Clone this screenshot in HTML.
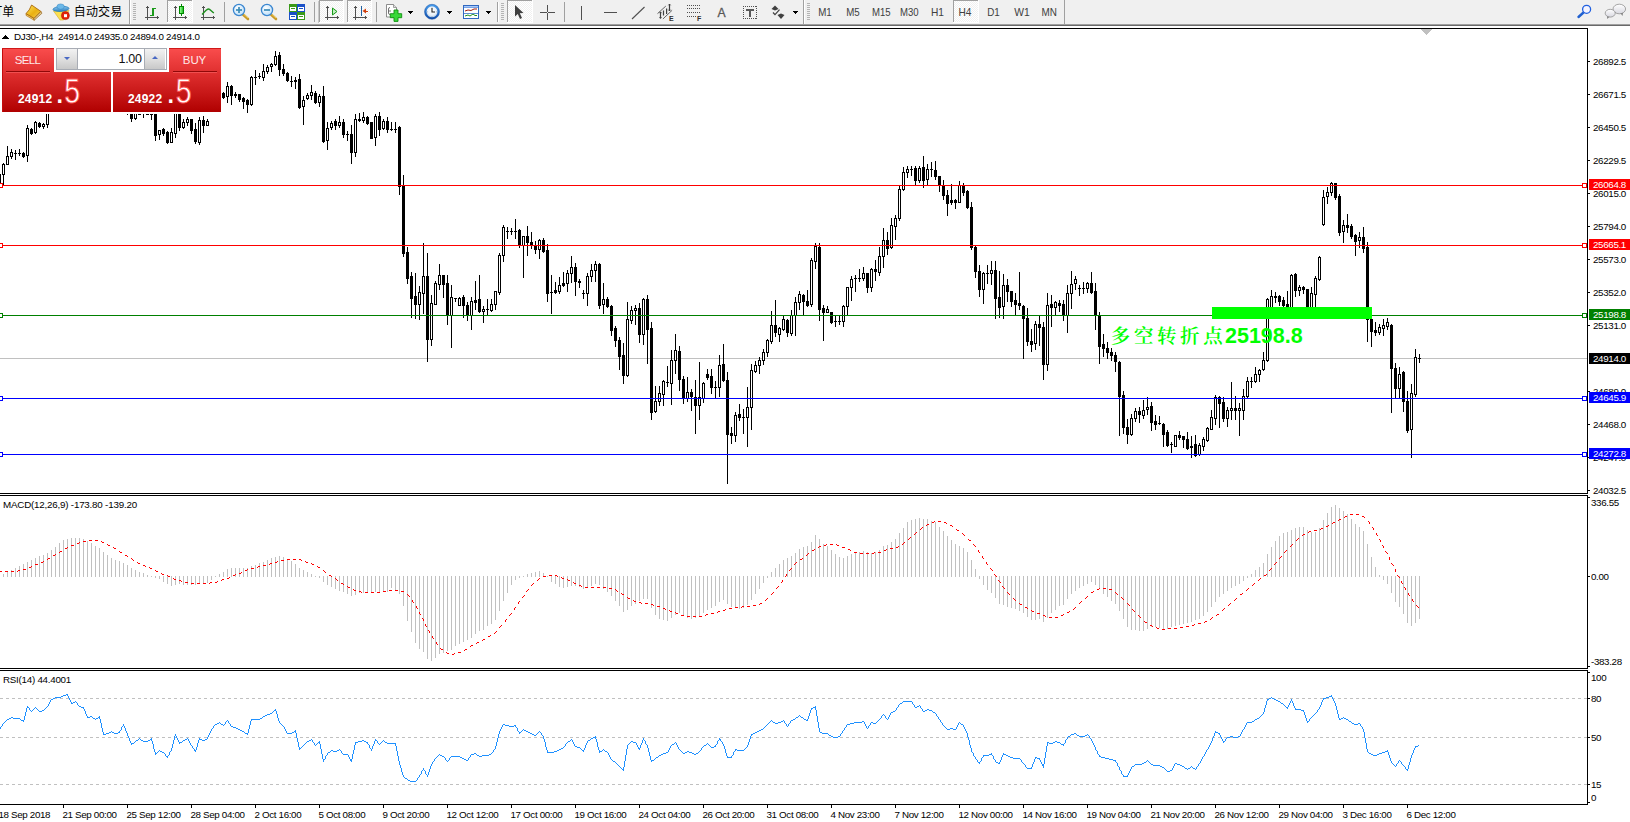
<!DOCTYPE html>
<html><head><meta charset="utf-8"><title>DJ30-,H4</title>
<style>
html,body{margin:0;padding:0;background:#fff;}
body{width:1630px;height:822px;position:relative;overflow:hidden;font-family:"Liberation Sans","Noto Sans CJK SC",sans-serif;}
#tb{position:absolute;left:0;top:0;width:1630px;height:24px;background:#f0f0f0;}
#tb1{position:absolute;left:0;top:24px;width:1630px;height:1px;background:#a0a0a0;}
#tb2{position:absolute;left:0;top:25px;width:1630px;height:1px;background:#696969;}
svg text{white-space:pre;}
</style></head><body>
<svg width="1630" height="822" viewBox="0 0 1630 822" shape-rendering="crispEdges" style="position:absolute;left:0;top:0"><rect x="0" y="28" width="1588" height="1" fill="#000"/>
<rect x="1587" y="28" width="1" height="777" fill="#000"/>
<rect x="0" y="493" width="1588" height="1" fill="#000"/>
<rect x="0" y="495" width="1588" height="1" fill="#000"/>
<rect x="0" y="668" width="1588" height="1" fill="#000"/>
<rect x="0" y="670" width="1588" height="1" fill="#000"/>
<rect x="0" y="804" width="1588" height="1" fill="#000"/>
<rect x="1587" y="494" width="1" height="1" fill="#fff"/>
<rect x="1587" y="669" width="1" height="1" fill="#fff"/>
<polygon points="1420,29 1432,29 1426,35" fill="#c0c0c0"/>
<rect x="0" y="358" width="1587" height="1" fill="#c0c0c0"/>
<g><rect x="-1" y="174" width="1" height="12" fill="#000"/><rect x="-2" y="174" width="3" height="12" fill="#000"/><rect x="3" y="163" width="1" height="23" fill="#000"/><rect x="2" y="164" width="3" height="11" fill="#000"/><rect x="3" y="165" width="1" height="9" fill="#fff"/><rect x="7" y="146" width="1" height="19" fill="#000"/><rect x="6" y="156" width="3" height="9" fill="#000"/><rect x="7" y="157" width="1" height="7" fill="#fff"/><rect x="11" y="149" width="1" height="10" fill="#000"/><rect x="10" y="152" width="3" height="5" fill="#000"/><rect x="11" y="153" width="1" height="3" fill="#fff"/><rect x="15" y="150" width="1" height="10" fill="#000"/><rect x="14" y="153" width="3" height="1" fill="#000"/><rect x="19" y="149" width="1" height="7" fill="#000"/><rect x="18" y="153" width="3" height="1" fill="#000"/><rect x="23" y="152" width="1" height="6" fill="#000"/><rect x="22" y="153" width="3" height="4" fill="#000"/><rect x="27" y="125" width="1" height="37" fill="#000"/><rect x="26" y="128" width="3" height="28" fill="#000"/><rect x="27" y="129" width="1" height="26" fill="#fff"/><rect x="31" y="128" width="1" height="7" fill="#000"/><rect x="30" y="129" width="3" height="5" fill="#000"/><rect x="35" y="121" width="1" height="13" fill="#000"/><rect x="34" y="122" width="3" height="11" fill="#000"/><rect x="35" y="123" width="1" height="9" fill="#fff"/><rect x="39" y="122" width="1" height="6" fill="#000"/><rect x="38" y="123" width="3" height="4" fill="#000"/><rect x="43" y="123" width="1" height="6" fill="#000"/><rect x="42" y="124" width="3" height="3" fill="#000"/><rect x="43" y="125" width="1" height="1" fill="#fff"/><rect x="47" y="105" width="1" height="23" fill="#000"/><rect x="46" y="106" width="3" height="19" fill="#000"/><rect x="47" y="107" width="1" height="17" fill="#fff"/><rect x="127" y="114" width="1" height="1" fill="#000"/><rect x="131" y="114" width="1" height="8" fill="#000"/><rect x="130" y="114" width="3" height="5" fill="#000"/><rect x="135" y="111" width="1" height="9" fill="#000"/><rect x="134" y="111" width="3" height="8" fill="#000"/><rect x="135" y="112" width="1" height="6" fill="#fff"/><rect x="139" y="114" width="1" height="1" fill="#000"/><rect x="138" y="114" width="3" height="1" fill="#000"/><rect x="143" y="114" width="1" height="4" fill="#000"/><rect x="147" y="114" width="1" height="1" fill="#000"/><rect x="146" y="114" width="3" height="1" fill="#000"/><rect x="151" y="114" width="1" height="6" fill="#000"/><rect x="150" y="114" width="3" height="1" fill="#000"/><rect x="155" y="111" width="1" height="30" fill="#000"/><rect x="154" y="111" width="3" height="25" fill="#000"/><rect x="159" y="130" width="1" height="10" fill="#000"/><rect x="158" y="130" width="3" height="5" fill="#000"/><rect x="159" y="131" width="1" height="3" fill="#fff"/><rect x="163" y="128" width="1" height="8" fill="#000"/><rect x="162" y="129" width="3" height="5" fill="#000"/><rect x="167" y="131" width="1" height="13" fill="#000"/><rect x="166" y="132" width="3" height="11" fill="#000"/><rect x="171" y="128" width="1" height="15" fill="#000"/><rect x="170" y="132" width="3" height="11" fill="#000"/><rect x="171" y="133" width="1" height="9" fill="#fff"/><rect x="175" y="111" width="1" height="27" fill="#000"/><rect x="174" y="111" width="3" height="23" fill="#000"/><rect x="175" y="112" width="1" height="21" fill="#fff"/><rect x="179" y="111" width="1" height="20" fill="#000"/><rect x="178" y="111" width="3" height="17" fill="#000"/><rect x="183" y="119" width="1" height="10" fill="#000"/><rect x="182" y="122" width="3" height="6" fill="#000"/><rect x="183" y="123" width="1" height="4" fill="#fff"/><rect x="187" y="117" width="1" height="9" fill="#000"/><rect x="186" y="119" width="3" height="4" fill="#000"/><rect x="187" y="120" width="1" height="2" fill="#fff"/><rect x="191" y="119" width="1" height="15" fill="#000"/><rect x="190" y="119" width="3" height="12" fill="#000"/><rect x="195" y="123" width="1" height="21" fill="#000"/><rect x="194" y="129" width="3" height="13" fill="#000"/><rect x="199" y="117" width="1" height="28" fill="#000"/><rect x="198" y="120" width="3" height="23" fill="#000"/><rect x="199" y="121" width="1" height="21" fill="#fff"/><rect x="203" y="116" width="1" height="17" fill="#000"/><rect x="202" y="120" width="3" height="6" fill="#000"/><rect x="207" y="119" width="1" height="7" fill="#000"/><rect x="206" y="121" width="3" height="5" fill="#000"/><rect x="207" y="122" width="1" height="3" fill="#fff"/><rect x="223" y="92" width="1" height="7" fill="#000"/><rect x="222" y="93" width="3" height="5" fill="#000"/><rect x="227" y="82" width="1" height="21" fill="#000"/><rect x="226" y="86" width="3" height="11" fill="#000"/><rect x="227" y="87" width="1" height="9" fill="#fff"/><rect x="231" y="85" width="1" height="20" fill="#000"/><rect x="230" y="86" width="3" height="10" fill="#000"/><rect x="235" y="92" width="1" height="6" fill="#000"/><rect x="234" y="94" width="3" height="2" fill="#000"/><rect x="239" y="94" width="1" height="8" fill="#000"/><rect x="238" y="94" width="3" height="6" fill="#000"/><rect x="243" y="97" width="1" height="12" fill="#000"/><rect x="242" y="98" width="3" height="4" fill="#000"/><rect x="247" y="99" width="1" height="14" fill="#000"/><rect x="246" y="100" width="3" height="5" fill="#000"/><rect x="251" y="76" width="1" height="30" fill="#000"/><rect x="250" y="77" width="3" height="28" fill="#000"/><rect x="251" y="78" width="1" height="26" fill="#fff"/><rect x="255" y="70" width="1" height="15" fill="#000"/><rect x="254" y="77" width="3" height="1" fill="#000"/><rect x="259" y="73" width="1" height="6" fill="#000"/><rect x="258" y="76" width="3" height="1" fill="#000"/><rect x="263" y="64" width="1" height="17" fill="#000"/><rect x="262" y="71" width="3" height="7" fill="#000"/><rect x="263" y="72" width="1" height="5" fill="#fff"/><rect x="267" y="65" width="1" height="9" fill="#000"/><rect x="266" y="67" width="3" height="5" fill="#000"/><rect x="267" y="68" width="1" height="3" fill="#fff"/><rect x="271" y="63" width="1" height="9" fill="#000"/><rect x="270" y="64" width="3" height="3" fill="#000"/><rect x="271" y="65" width="1" height="1" fill="#fff"/><rect x="275" y="51" width="1" height="15" fill="#000"/><rect x="274" y="56" width="3" height="9" fill="#000"/><rect x="275" y="57" width="1" height="7" fill="#fff"/><rect x="279" y="52" width="1" height="24" fill="#000"/><rect x="278" y="55" width="3" height="15" fill="#000"/><rect x="283" y="64" width="1" height="12" fill="#000"/><rect x="282" y="69" width="3" height="5" fill="#000"/><rect x="287" y="72" width="1" height="10" fill="#000"/><rect x="286" y="73" width="3" height="8" fill="#000"/><rect x="291" y="76" width="1" height="11" fill="#000"/><rect x="290" y="81" width="3" height="1" fill="#000"/><rect x="295" y="77" width="1" height="12" fill="#000"/><rect x="294" y="80" width="3" height="2" fill="#000"/><rect x="299" y="74" width="1" height="35" fill="#000"/><rect x="298" y="79" width="3" height="29" fill="#000"/><rect x="303" y="96" width="1" height="29" fill="#000"/><rect x="302" y="100" width="3" height="7" fill="#000"/><rect x="303" y="101" width="1" height="5" fill="#fff"/><rect x="307" y="93" width="1" height="7" fill="#000"/><rect x="306" y="95" width="3" height="4" fill="#000"/><rect x="307" y="96" width="1" height="2" fill="#fff"/><rect x="311" y="85" width="1" height="15" fill="#000"/><rect x="310" y="92" width="3" height="4" fill="#000"/><rect x="311" y="93" width="1" height="2" fill="#fff"/><rect x="315" y="91" width="1" height="13" fill="#000"/><rect x="314" y="93" width="3" height="10" fill="#000"/><rect x="319" y="94" width="1" height="13" fill="#000"/><rect x="318" y="96" width="3" height="7" fill="#000"/><rect x="319" y="97" width="1" height="5" fill="#fff"/><rect x="323" y="86" width="1" height="57" fill="#000"/><rect x="322" y="96" width="3" height="46" fill="#000"/><rect x="327" y="122" width="1" height="28" fill="#000"/><rect x="326" y="128" width="3" height="13" fill="#000"/><rect x="327" y="129" width="1" height="11" fill="#fff"/><rect x="331" y="121" width="1" height="9" fill="#000"/><rect x="330" y="123" width="3" height="5" fill="#000"/><rect x="331" y="124" width="1" height="3" fill="#fff"/><rect x="335" y="119" width="1" height="11" fill="#000"/><rect x="334" y="121" width="3" height="5" fill="#000"/><rect x="339" y="116" width="1" height="12" fill="#000"/><rect x="338" y="122" width="3" height="4" fill="#000"/><rect x="339" y="123" width="1" height="2" fill="#fff"/><rect x="343" y="119" width="1" height="19" fill="#000"/><rect x="342" y="122" width="3" height="13" fill="#000"/><rect x="347" y="131" width="1" height="10" fill="#000"/><rect x="346" y="134" width="3" height="1" fill="#000"/><rect x="351" y="125" width="1" height="39" fill="#000"/><rect x="350" y="134" width="3" height="19" fill="#000"/><rect x="355" y="114" width="1" height="43" fill="#000"/><rect x="354" y="119" width="3" height="34" fill="#000"/><rect x="355" y="120" width="1" height="32" fill="#fff"/><rect x="359" y="113" width="1" height="9" fill="#000"/><rect x="358" y="119" width="3" height="2" fill="#000"/><rect x="363" y="112" width="1" height="11" fill="#000"/><rect x="362" y="117" width="3" height="4" fill="#000"/><rect x="363" y="118" width="1" height="2" fill="#fff"/><rect x="367" y="116" width="1" height="9" fill="#000"/><rect x="366" y="117" width="3" height="7" fill="#000"/><rect x="371" y="122" width="1" height="17" fill="#000"/><rect x="370" y="122" width="3" height="17" fill="#000"/><rect x="375" y="114" width="1" height="32" fill="#000"/><rect x="374" y="116" width="3" height="22" fill="#000"/><rect x="375" y="117" width="1" height="20" fill="#fff"/><rect x="379" y="112" width="1" height="24" fill="#000"/><rect x="378" y="116" width="3" height="14" fill="#000"/><rect x="383" y="119" width="1" height="11" fill="#000"/><rect x="382" y="121" width="3" height="8" fill="#000"/><rect x="383" y="122" width="1" height="6" fill="#fff"/><rect x="387" y="117" width="1" height="16" fill="#000"/><rect x="386" y="121" width="3" height="9" fill="#000"/><rect x="391" y="122" width="1" height="9" fill="#000"/><rect x="390" y="129" width="3" height="1" fill="#000"/><rect x="395" y="122" width="1" height="11" fill="#000"/><rect x="394" y="129" width="3" height="1" fill="#000"/><rect x="399" y="126" width="1" height="69" fill="#000"/><rect x="398" y="127" width="3" height="60" fill="#000"/><rect x="403" y="175" width="1" height="82" fill="#000"/><rect x="402" y="186" width="3" height="68" fill="#000"/><rect x="407" y="247" width="1" height="37" fill="#000"/><rect x="406" y="252" width="3" height="27" fill="#000"/><rect x="411" y="272" width="1" height="46" fill="#000"/><rect x="410" y="276" width="3" height="23" fill="#000"/><rect x="415" y="273" width="1" height="46" fill="#000"/><rect x="414" y="296" width="3" height="9" fill="#000"/><rect x="419" y="286" width="1" height="34" fill="#000"/><rect x="418" y="292" width="3" height="13" fill="#000"/><rect x="419" y="293" width="1" height="11" fill="#fff"/><rect x="423" y="243" width="1" height="71" fill="#000"/><rect x="422" y="276" width="3" height="18" fill="#000"/><rect x="423" y="277" width="1" height="16" fill="#fff"/><rect x="427" y="253" width="1" height="109" fill="#000"/><rect x="426" y="276" width="3" height="64" fill="#000"/><rect x="431" y="295" width="1" height="51" fill="#000"/><rect x="430" y="303" width="3" height="37" fill="#000"/><rect x="431" y="304" width="1" height="35" fill="#fff"/><rect x="435" y="281" width="1" height="24" fill="#000"/><rect x="434" y="283" width="3" height="22" fill="#000"/><rect x="435" y="284" width="1" height="20" fill="#fff"/><rect x="439" y="264" width="1" height="26" fill="#000"/><rect x="438" y="275" width="3" height="10" fill="#000"/><rect x="439" y="276" width="1" height="8" fill="#fff"/><rect x="443" y="275" width="1" height="23" fill="#000"/><rect x="442" y="275" width="3" height="10" fill="#000"/><rect x="447" y="275" width="1" height="50" fill="#000"/><rect x="446" y="283" width="3" height="33" fill="#000"/><rect x="451" y="285" width="1" height="63" fill="#000"/><rect x="450" y="297" width="3" height="19" fill="#000"/><rect x="451" y="298" width="1" height="17" fill="#fff"/><rect x="455" y="298" width="1" height="4" fill="#000"/><rect x="454" y="298" width="3" height="1" fill="#000"/><rect x="459" y="297" width="1" height="9" fill="#000"/><rect x="458" y="298" width="3" height="8" fill="#000"/><rect x="459" y="299" width="1" height="6" fill="#fff"/><rect x="463" y="295" width="1" height="23" fill="#000"/><rect x="462" y="297" width="3" height="9" fill="#000"/><rect x="467" y="302" width="1" height="19" fill="#000"/><rect x="466" y="305" width="3" height="11" fill="#000"/><rect x="471" y="297" width="1" height="33" fill="#000"/><rect x="470" y="301" width="3" height="15" fill="#000"/><rect x="471" y="302" width="1" height="13" fill="#fff"/><rect x="475" y="281" width="1" height="29" fill="#000"/><rect x="474" y="300" width="3" height="3" fill="#000"/><rect x="479" y="275" width="1" height="38" fill="#000"/><rect x="478" y="299" width="3" height="13" fill="#000"/><rect x="483" y="306" width="1" height="17" fill="#000"/><rect x="482" y="309" width="3" height="3" fill="#000"/><rect x="483" y="310" width="1" height="1" fill="#fff"/><rect x="487" y="299" width="1" height="16" fill="#000"/><rect x="486" y="309" width="3" height="1" fill="#000"/><rect x="491" y="299" width="1" height="13" fill="#000"/><rect x="490" y="304" width="3" height="7" fill="#000"/><rect x="491" y="305" width="1" height="5" fill="#fff"/><rect x="495" y="291" width="1" height="19" fill="#000"/><rect x="494" y="291" width="3" height="14" fill="#000"/><rect x="495" y="292" width="1" height="12" fill="#fff"/><rect x="499" y="253" width="1" height="42" fill="#000"/><rect x="498" y="255" width="3" height="38" fill="#000"/><rect x="499" y="256" width="1" height="36" fill="#fff"/><rect x="503" y="225" width="1" height="37" fill="#000"/><rect x="502" y="227" width="3" height="29" fill="#000"/><rect x="503" y="228" width="1" height="27" fill="#fff"/><rect x="507" y="227" width="1" height="12" fill="#000"/><rect x="506" y="231" width="3" height="1" fill="#000"/><rect x="511" y="228" width="1" height="7" fill="#000"/><rect x="510" y="231" width="3" height="1" fill="#000"/><rect x="515" y="219" width="1" height="20" fill="#000"/><rect x="514" y="231" width="3" height="1" fill="#000"/><rect x="519" y="229" width="1" height="19" fill="#000"/><rect x="518" y="230" width="3" height="16" fill="#000"/><rect x="523" y="236" width="1" height="42" fill="#000"/><rect x="522" y="236" width="3" height="10" fill="#000"/><rect x="523" y="237" width="1" height="8" fill="#fff"/><rect x="527" y="226" width="1" height="30" fill="#000"/><rect x="526" y="236" width="3" height="7" fill="#000"/><rect x="531" y="232" width="1" height="17" fill="#000"/><rect x="530" y="242" width="3" height="4" fill="#000"/><rect x="535" y="241" width="1" height="13" fill="#000"/><rect x="534" y="245" width="3" height="5" fill="#000"/><rect x="539" y="239" width="1" height="20" fill="#000"/><rect x="538" y="240" width="3" height="10" fill="#000"/><rect x="539" y="241" width="1" height="8" fill="#fff"/><rect x="543" y="238" width="1" height="15" fill="#000"/><rect x="542" y="240" width="3" height="12" fill="#000"/><rect x="547" y="244" width="1" height="58" fill="#000"/><rect x="546" y="250" width="3" height="44" fill="#000"/><rect x="551" y="275" width="1" height="39" fill="#000"/><rect x="550" y="292" width="3" height="1" fill="#000"/><rect x="555" y="282" width="1" height="12" fill="#000"/><rect x="554" y="290" width="3" height="3" fill="#000"/><rect x="559" y="277" width="1" height="17" fill="#000"/><rect x="558" y="285" width="3" height="7" fill="#000"/><rect x="559" y="286" width="1" height="5" fill="#fff"/><rect x="563" y="272" width="1" height="15" fill="#000"/><rect x="562" y="283" width="3" height="3" fill="#000"/><rect x="567" y="270" width="1" height="22" fill="#000"/><rect x="566" y="273" width="3" height="11" fill="#000"/><rect x="567" y="274" width="1" height="9" fill="#fff"/><rect x="571" y="256" width="1" height="27" fill="#000"/><rect x="570" y="267" width="3" height="7" fill="#000"/><rect x="571" y="268" width="1" height="5" fill="#fff"/><rect x="575" y="263" width="1" height="33" fill="#000"/><rect x="574" y="267" width="3" height="15" fill="#000"/><rect x="579" y="279" width="1" height="9" fill="#000"/><rect x="578" y="281" width="3" height="2" fill="#000"/><rect x="583" y="290" width="1" height="9" fill="#000"/><rect x="582" y="293" width="3" height="1" fill="#000"/><rect x="587" y="273" width="1" height="33" fill="#000"/><rect x="586" y="276" width="3" height="18" fill="#000"/><rect x="587" y="277" width="1" height="16" fill="#fff"/><rect x="591" y="264" width="1" height="18" fill="#000"/><rect x="590" y="270" width="3" height="7" fill="#000"/><rect x="591" y="271" width="1" height="5" fill="#fff"/><rect x="595" y="261" width="1" height="21" fill="#000"/><rect x="594" y="264" width="3" height="7" fill="#000"/><rect x="595" y="265" width="1" height="5" fill="#fff"/><rect x="599" y="263" width="1" height="46" fill="#000"/><rect x="598" y="264" width="3" height="42" fill="#000"/><rect x="603" y="283" width="1" height="31" fill="#000"/><rect x="602" y="299" width="3" height="6" fill="#000"/><rect x="603" y="300" width="1" height="4" fill="#fff"/><rect x="607" y="297" width="1" height="11" fill="#000"/><rect x="606" y="299" width="3" height="8" fill="#000"/><rect x="611" y="305" width="1" height="31" fill="#000"/><rect x="610" y="306" width="3" height="25" fill="#000"/><rect x="615" y="326" width="1" height="21" fill="#000"/><rect x="614" y="328" width="3" height="13" fill="#000"/><rect x="619" y="337" width="1" height="33" fill="#000"/><rect x="618" y="340" width="3" height="17" fill="#000"/><rect x="623" y="343" width="1" height="41" fill="#000"/><rect x="622" y="355" width="3" height="21" fill="#000"/><rect x="627" y="302" width="1" height="75" fill="#000"/><rect x="626" y="319" width="3" height="57" fill="#000"/><rect x="627" y="320" width="1" height="55" fill="#fff"/><rect x="631" y="306" width="1" height="18" fill="#000"/><rect x="630" y="310" width="3" height="11" fill="#000"/><rect x="631" y="311" width="1" height="9" fill="#fff"/><rect x="635" y="305" width="1" height="20" fill="#000"/><rect x="634" y="308" width="3" height="3" fill="#000"/><rect x="635" y="309" width="1" height="1" fill="#fff"/><rect x="639" y="303" width="1" height="40" fill="#000"/><rect x="638" y="308" width="3" height="27" fill="#000"/><rect x="643" y="298" width="1" height="47" fill="#000"/><rect x="642" y="299" width="3" height="36" fill="#000"/><rect x="643" y="300" width="1" height="34" fill="#fff"/><rect x="647" y="295" width="1" height="69" fill="#000"/><rect x="646" y="299" width="3" height="31" fill="#000"/><rect x="651" y="322" width="1" height="98" fill="#000"/><rect x="650" y="328" width="3" height="85" fill="#000"/><rect x="655" y="386" width="1" height="27" fill="#000"/><rect x="654" y="401" width="3" height="11" fill="#000"/><rect x="655" y="402" width="1" height="9" fill="#fff"/><rect x="659" y="386" width="1" height="20" fill="#000"/><rect x="658" y="393" width="3" height="9" fill="#000"/><rect x="659" y="394" width="1" height="7" fill="#fff"/><rect x="663" y="380" width="1" height="26" fill="#000"/><rect x="662" y="381" width="3" height="14" fill="#000"/><rect x="663" y="382" width="1" height="12" fill="#fff"/><rect x="667" y="366" width="1" height="21" fill="#000"/><rect x="666" y="382" width="3" height="1" fill="#000"/><rect x="671" y="350" width="1" height="55" fill="#000"/><rect x="670" y="360" width="3" height="24" fill="#000"/><rect x="671" y="361" width="1" height="22" fill="#fff"/><rect x="675" y="334" width="1" height="40" fill="#000"/><rect x="674" y="350" width="3" height="11" fill="#000"/><rect x="675" y="351" width="1" height="9" fill="#fff"/><rect x="679" y="346" width="1" height="45" fill="#000"/><rect x="678" y="351" width="3" height="29" fill="#000"/><rect x="683" y="376" width="1" height="28" fill="#000"/><rect x="682" y="379" width="3" height="20" fill="#000"/><rect x="687" y="377" width="1" height="25" fill="#000"/><rect x="686" y="392" width="3" height="7" fill="#000"/><rect x="687" y="393" width="1" height="5" fill="#fff"/><rect x="691" y="389" width="1" height="22" fill="#000"/><rect x="690" y="392" width="3" height="5" fill="#000"/><rect x="695" y="380" width="1" height="54" fill="#000"/><rect x="694" y="397" width="3" height="9" fill="#000"/><rect x="699" y="362" width="1" height="58" fill="#000"/><rect x="698" y="397" width="3" height="9" fill="#000"/><rect x="699" y="398" width="1" height="7" fill="#fff"/><rect x="703" y="382" width="1" height="21" fill="#000"/><rect x="702" y="383" width="3" height="16" fill="#000"/><rect x="703" y="384" width="1" height="14" fill="#fff"/><rect x="707" y="369" width="1" height="11" fill="#000"/><rect x="706" y="374" width="3" height="4" fill="#000"/><rect x="711" y="369" width="1" height="25" fill="#000"/><rect x="710" y="376" width="3" height="12" fill="#000"/><rect x="715" y="381" width="1" height="18" fill="#000"/><rect x="714" y="387" width="3" height="1" fill="#000"/><rect x="719" y="355" width="1" height="42" fill="#000"/><rect x="718" y="365" width="3" height="23" fill="#000"/><rect x="719" y="366" width="1" height="21" fill="#fff"/><rect x="723" y="344" width="1" height="38" fill="#000"/><rect x="722" y="364" width="3" height="17" fill="#000"/><rect x="727" y="372" width="1" height="112" fill="#000"/><rect x="726" y="380" width="3" height="55" fill="#000"/><rect x="731" y="427" width="1" height="17" fill="#000"/><rect x="730" y="433" width="3" height="3" fill="#000"/><rect x="735" y="412" width="1" height="30" fill="#000"/><rect x="734" y="415" width="3" height="21" fill="#000"/><rect x="735" y="416" width="1" height="19" fill="#fff"/><rect x="739" y="404" width="1" height="17" fill="#000"/><rect x="738" y="414" width="3" height="4" fill="#000"/><rect x="743" y="409" width="1" height="25" fill="#000"/><rect x="742" y="417" width="3" height="1" fill="#000"/><rect x="747" y="387" width="1" height="60" fill="#000"/><rect x="746" y="407" width="3" height="11" fill="#000"/><rect x="747" y="408" width="1" height="9" fill="#fff"/><rect x="751" y="364" width="1" height="66" fill="#000"/><rect x="750" y="370" width="3" height="38" fill="#000"/><rect x="751" y="371" width="1" height="36" fill="#fff"/><rect x="755" y="361" width="1" height="12" fill="#000"/><rect x="754" y="365" width="3" height="7" fill="#000"/><rect x="755" y="366" width="1" height="5" fill="#fff"/><rect x="759" y="357" width="1" height="17" fill="#000"/><rect x="758" y="360" width="3" height="6" fill="#000"/><rect x="759" y="361" width="1" height="4" fill="#fff"/><rect x="763" y="349" width="1" height="16" fill="#000"/><rect x="762" y="352" width="3" height="9" fill="#000"/><rect x="763" y="353" width="1" height="7" fill="#fff"/><rect x="767" y="339" width="1" height="18" fill="#000"/><rect x="766" y="340" width="3" height="13" fill="#000"/><rect x="767" y="341" width="1" height="11" fill="#fff"/><rect x="771" y="311" width="1" height="33" fill="#000"/><rect x="770" y="325" width="3" height="17" fill="#000"/><rect x="771" y="326" width="1" height="15" fill="#fff"/><rect x="775" y="300" width="1" height="37" fill="#000"/><rect x="774" y="325" width="3" height="8" fill="#000"/><rect x="779" y="327" width="1" height="15" fill="#000"/><rect x="778" y="328" width="3" height="7" fill="#000"/><rect x="779" y="329" width="1" height="5" fill="#fff"/><rect x="783" y="316" width="1" height="15" fill="#000"/><rect x="782" y="319" width="3" height="11" fill="#000"/><rect x="783" y="320" width="1" height="9" fill="#fff"/><rect x="787" y="319" width="1" height="18" fill="#000"/><rect x="786" y="320" width="3" height="13" fill="#000"/><rect x="791" y="310" width="1" height="26" fill="#000"/><rect x="790" y="315" width="3" height="19" fill="#000"/><rect x="791" y="316" width="1" height="17" fill="#fff"/><rect x="795" y="297" width="1" height="39" fill="#000"/><rect x="794" y="302" width="3" height="14" fill="#000"/><rect x="795" y="303" width="1" height="12" fill="#fff"/><rect x="799" y="291" width="1" height="19" fill="#000"/><rect x="798" y="294" width="3" height="9" fill="#000"/><rect x="799" y="295" width="1" height="7" fill="#fff"/><rect x="803" y="294" width="1" height="22" fill="#000"/><rect x="802" y="295" width="3" height="7" fill="#000"/><rect x="807" y="290" width="1" height="17" fill="#000"/><rect x="806" y="301" width="3" height="5" fill="#000"/><rect x="811" y="258" width="1" height="49" fill="#000"/><rect x="810" y="260" width="3" height="45" fill="#000"/><rect x="811" y="261" width="1" height="43" fill="#fff"/><rect x="815" y="243" width="1" height="26" fill="#000"/><rect x="814" y="246" width="3" height="16" fill="#000"/><rect x="815" y="247" width="1" height="14" fill="#fff"/><rect x="819" y="243" width="1" height="78" fill="#000"/><rect x="818" y="247" width="3" height="63" fill="#000"/><rect x="823" y="305" width="1" height="36" fill="#000"/><rect x="822" y="308" width="3" height="5" fill="#000"/><rect x="827" y="306" width="1" height="7" fill="#000"/><rect x="826" y="309" width="3" height="4" fill="#000"/><rect x="827" y="310" width="1" height="2" fill="#fff"/><rect x="831" y="312" width="1" height="12" fill="#000"/><rect x="830" y="312" width="3" height="11" fill="#000"/><rect x="835" y="316" width="1" height="11" fill="#000"/><rect x="834" y="321" width="3" height="1" fill="#000"/><rect x="839" y="316" width="1" height="9" fill="#000"/><rect x="838" y="321" width="3" height="1" fill="#000"/><rect x="843" y="305" width="1" height="22" fill="#000"/><rect x="842" y="306" width="3" height="16" fill="#000"/><rect x="843" y="307" width="1" height="14" fill="#fff"/><rect x="847" y="287" width="1" height="29" fill="#000"/><rect x="846" y="287" width="3" height="20" fill="#000"/><rect x="847" y="288" width="1" height="18" fill="#fff"/><rect x="851" y="276" width="1" height="25" fill="#000"/><rect x="850" y="279" width="3" height="9" fill="#000"/><rect x="851" y="280" width="1" height="7" fill="#fff"/><rect x="855" y="275" width="1" height="17" fill="#000"/><rect x="854" y="278" width="3" height="1" fill="#000"/><rect x="859" y="269" width="1" height="13" fill="#000"/><rect x="858" y="278" width="3" height="1" fill="#000"/><rect x="863" y="267" width="1" height="14" fill="#000"/><rect x="862" y="273" width="3" height="6" fill="#000"/><rect x="863" y="274" width="1" height="4" fill="#fff"/><rect x="867" y="273" width="1" height="20" fill="#000"/><rect x="866" y="273" width="3" height="15" fill="#000"/><rect x="871" y="268" width="1" height="24" fill="#000"/><rect x="870" y="269" width="3" height="19" fill="#000"/><rect x="871" y="270" width="1" height="17" fill="#fff"/><rect x="875" y="260" width="1" height="21" fill="#000"/><rect x="874" y="269" width="3" height="3" fill="#000"/><rect x="879" y="247" width="1" height="29" fill="#000"/><rect x="878" y="256" width="3" height="17" fill="#000"/><rect x="879" y="257" width="1" height="15" fill="#fff"/><rect x="883" y="228" width="1" height="40" fill="#000"/><rect x="882" y="240" width="3" height="17" fill="#000"/><rect x="883" y="241" width="1" height="15" fill="#fff"/><rect x="887" y="232" width="1" height="23" fill="#000"/><rect x="886" y="240" width="3" height="9" fill="#000"/><rect x="891" y="218" width="1" height="31" fill="#000"/><rect x="890" y="225" width="3" height="23" fill="#000"/><rect x="891" y="226" width="1" height="21" fill="#fff"/><rect x="895" y="215" width="1" height="25" fill="#000"/><rect x="894" y="218" width="3" height="9" fill="#000"/><rect x="895" y="219" width="1" height="7" fill="#fff"/><rect x="899" y="186" width="1" height="35" fill="#000"/><rect x="898" y="189" width="3" height="30" fill="#000"/><rect x="899" y="190" width="1" height="28" fill="#fff"/><rect x="903" y="167" width="1" height="24" fill="#000"/><rect x="902" y="172" width="3" height="18" fill="#000"/><rect x="903" y="173" width="1" height="16" fill="#fff"/><rect x="907" y="166" width="1" height="12" fill="#000"/><rect x="906" y="169" width="3" height="4" fill="#000"/><rect x="907" y="170" width="1" height="2" fill="#fff"/><rect x="911" y="166" width="1" height="10" fill="#000"/><rect x="910" y="169" width="3" height="1" fill="#000"/><rect x="915" y="166" width="1" height="20" fill="#000"/><rect x="914" y="168" width="3" height="13" fill="#000"/><rect x="919" y="166" width="1" height="17" fill="#000"/><rect x="918" y="168" width="3" height="13" fill="#000"/><rect x="919" y="169" width="1" height="11" fill="#fff"/><rect x="923" y="156" width="1" height="32" fill="#000"/><rect x="922" y="167" width="3" height="14" fill="#000"/><rect x="927" y="164" width="1" height="22" fill="#000"/><rect x="926" y="169" width="3" height="11" fill="#000"/><rect x="927" y="170" width="1" height="9" fill="#fff"/><rect x="931" y="162" width="1" height="15" fill="#000"/><rect x="930" y="169" width="3" height="1" fill="#000"/><rect x="935" y="161" width="1" height="19" fill="#000"/><rect x="934" y="170" width="3" height="7" fill="#000"/><rect x="939" y="176" width="1" height="16" fill="#000"/><rect x="938" y="176" width="3" height="10" fill="#000"/><rect x="943" y="180" width="1" height="20" fill="#000"/><rect x="942" y="185" width="3" height="11" fill="#000"/><rect x="947" y="190" width="1" height="26" fill="#000"/><rect x="946" y="195" width="3" height="9" fill="#000"/><rect x="951" y="184" width="1" height="21" fill="#000"/><rect x="950" y="200" width="3" height="3" fill="#000"/><rect x="955" y="199" width="1" height="10" fill="#000"/><rect x="954" y="200" width="3" height="3" fill="#000"/><rect x="959" y="181" width="1" height="22" fill="#000"/><rect x="958" y="185" width="3" height="18" fill="#000"/><rect x="959" y="186" width="1" height="16" fill="#fff"/><rect x="963" y="183" width="1" height="13" fill="#000"/><rect x="962" y="185" width="3" height="8" fill="#000"/><rect x="967" y="190" width="1" height="19" fill="#000"/><rect x="966" y="191" width="3" height="17" fill="#000"/><rect x="971" y="202" width="1" height="48" fill="#000"/><rect x="970" y="207" width="3" height="41" fill="#000"/><rect x="975" y="246" width="1" height="32" fill="#000"/><rect x="974" y="247" width="3" height="25" fill="#000"/><rect x="979" y="265" width="1" height="32" fill="#000"/><rect x="978" y="271" width="3" height="19" fill="#000"/><rect x="983" y="272" width="1" height="32" fill="#000"/><rect x="982" y="273" width="3" height="17" fill="#000"/><rect x="983" y="274" width="1" height="15" fill="#fff"/><rect x="987" y="265" width="1" height="19" fill="#000"/><rect x="986" y="273" width="3" height="1" fill="#000"/><rect x="991" y="261" width="1" height="24" fill="#000"/><rect x="990" y="270" width="3" height="4" fill="#000"/><rect x="991" y="271" width="1" height="2" fill="#fff"/><rect x="995" y="261" width="1" height="58" fill="#000"/><rect x="994" y="270" width="3" height="29" fill="#000"/><rect x="999" y="271" width="1" height="47" fill="#000"/><rect x="998" y="297" width="3" height="11" fill="#000"/><rect x="1003" y="274" width="1" height="45" fill="#000"/><rect x="1002" y="285" width="3" height="22" fill="#000"/><rect x="1003" y="286" width="1" height="20" fill="#fff"/><rect x="1007" y="279" width="1" height="23" fill="#000"/><rect x="1006" y="285" width="3" height="7" fill="#000"/><rect x="1011" y="291" width="1" height="16" fill="#000"/><rect x="1010" y="291" width="3" height="11" fill="#000"/><rect x="1015" y="293" width="1" height="23" fill="#000"/><rect x="1014" y="300" width="3" height="5" fill="#000"/><rect x="1019" y="272" width="1" height="38" fill="#000"/><rect x="1018" y="303" width="3" height="3" fill="#000"/><rect x="1023" y="305" width="1" height="54" fill="#000"/><rect x="1022" y="306" width="3" height="13" fill="#000"/><rect x="1027" y="308" width="1" height="38" fill="#000"/><rect x="1026" y="318" width="3" height="24" fill="#000"/><rect x="1031" y="329" width="1" height="23" fill="#000"/><rect x="1030" y="341" width="3" height="4" fill="#000"/><rect x="1035" y="321" width="1" height="29" fill="#000"/><rect x="1034" y="324" width="3" height="20" fill="#000"/><rect x="1035" y="325" width="1" height="18" fill="#fff"/><rect x="1039" y="316" width="1" height="30" fill="#000"/><rect x="1038" y="324" width="3" height="4" fill="#000"/><rect x="1043" y="322" width="1" height="58" fill="#000"/><rect x="1042" y="327" width="3" height="38" fill="#000"/><rect x="1047" y="293" width="1" height="78" fill="#000"/><rect x="1046" y="305" width="3" height="60" fill="#000"/><rect x="1047" y="306" width="1" height="58" fill="#fff"/><rect x="1051" y="295" width="1" height="32" fill="#000"/><rect x="1050" y="304" width="3" height="4" fill="#000"/><rect x="1055" y="301" width="1" height="14" fill="#000"/><rect x="1054" y="302" width="3" height="6" fill="#000"/><rect x="1055" y="303" width="1" height="4" fill="#fff"/><rect x="1059" y="300" width="1" height="12" fill="#000"/><rect x="1058" y="303" width="3" height="3" fill="#000"/><rect x="1063" y="300" width="1" height="21" fill="#000"/><rect x="1062" y="304" width="3" height="12" fill="#000"/><rect x="1067" y="285" width="1" height="48" fill="#000"/><rect x="1066" y="293" width="3" height="23" fill="#000"/><rect x="1067" y="294" width="1" height="21" fill="#fff"/><rect x="1071" y="271" width="1" height="38" fill="#000"/><rect x="1070" y="284" width="3" height="10" fill="#000"/><rect x="1071" y="285" width="1" height="8" fill="#fff"/><rect x="1075" y="276" width="1" height="14" fill="#000"/><rect x="1074" y="279" width="3" height="5" fill="#000"/><rect x="1075" y="280" width="1" height="3" fill="#fff"/><rect x="1079" y="285" width="1" height="11" fill="#000"/><rect x="1078" y="288" width="3" height="1" fill="#000"/><rect x="1083" y="282" width="1" height="12" fill="#000"/><rect x="1082" y="288" width="3" height="1" fill="#000"/><rect x="1087" y="282" width="1" height="11" fill="#000"/><rect x="1086" y="283" width="3" height="6" fill="#000"/><rect x="1087" y="284" width="1" height="4" fill="#fff"/><rect x="1091" y="272" width="1" height="22" fill="#000"/><rect x="1090" y="283" width="3" height="10" fill="#000"/><rect x="1095" y="283" width="1" height="47" fill="#000"/><rect x="1094" y="291" width="3" height="25" fill="#000"/><rect x="1099" y="312" width="1" height="52" fill="#000"/><rect x="1098" y="315" width="3" height="32" fill="#000"/><rect x="1103" y="334" width="1" height="23" fill="#000"/><rect x="1102" y="344" width="3" height="5" fill="#000"/><rect x="1107" y="342" width="1" height="17" fill="#000"/><rect x="1106" y="348" width="3" height="5" fill="#000"/><rect x="1111" y="348" width="1" height="13" fill="#000"/><rect x="1110" y="352" width="3" height="4" fill="#000"/><rect x="1115" y="352" width="1" height="20" fill="#000"/><rect x="1114" y="355" width="3" height="7" fill="#000"/><rect x="1119" y="361" width="1" height="75" fill="#000"/><rect x="1118" y="362" width="3" height="35" fill="#000"/><rect x="1123" y="391" width="1" height="43" fill="#000"/><rect x="1122" y="395" width="3" height="33" fill="#000"/><rect x="1127" y="419" width="1" height="25" fill="#000"/><rect x="1126" y="427" width="3" height="8" fill="#000"/><rect x="1131" y="414" width="1" height="22" fill="#000"/><rect x="1130" y="418" width="3" height="17" fill="#000"/><rect x="1131" y="419" width="1" height="15" fill="#fff"/><rect x="1135" y="408" width="1" height="14" fill="#000"/><rect x="1134" y="411" width="3" height="8" fill="#000"/><rect x="1135" y="412" width="1" height="6" fill="#fff"/><rect x="1139" y="407" width="1" height="16" fill="#000"/><rect x="1138" y="411" width="3" height="4" fill="#000"/><rect x="1143" y="400" width="1" height="19" fill="#000"/><rect x="1142" y="410" width="3" height="6" fill="#000"/><rect x="1143" y="411" width="1" height="4" fill="#fff"/><rect x="1147" y="397" width="1" height="18" fill="#000"/><rect x="1146" y="407" width="3" height="3" fill="#000"/><rect x="1147" y="408" width="1" height="1" fill="#fff"/><rect x="1151" y="402" width="1" height="29" fill="#000"/><rect x="1150" y="406" width="3" height="17" fill="#000"/><rect x="1155" y="415" width="1" height="15" fill="#000"/><rect x="1154" y="421" width="3" height="4" fill="#000"/><rect x="1159" y="416" width="1" height="9" fill="#000"/><rect x="1158" y="423" width="3" height="1" fill="#000"/><rect x="1163" y="423" width="1" height="24" fill="#000"/><rect x="1162" y="424" width="3" height="11" fill="#000"/><rect x="1167" y="430" width="1" height="17" fill="#000"/><rect x="1166" y="432" width="3" height="14" fill="#000"/><rect x="1171" y="442" width="1" height="11" fill="#000"/><rect x="1170" y="444" width="3" height="1" fill="#000"/><rect x="1175" y="435" width="1" height="12" fill="#000"/><rect x="1174" y="435" width="3" height="12" fill="#000"/><rect x="1175" y="436" width="1" height="10" fill="#fff"/><rect x="1179" y="431" width="1" height="9" fill="#000"/><rect x="1178" y="435" width="3" height="3" fill="#000"/><rect x="1183" y="436" width="1" height="12" fill="#000"/><rect x="1182" y="436" width="3" height="4" fill="#000"/><rect x="1187" y="432" width="1" height="18" fill="#000"/><rect x="1186" y="439" width="3" height="10" fill="#000"/><rect x="1191" y="436" width="1" height="22" fill="#000"/><rect x="1190" y="446" width="3" height="2" fill="#000"/><rect x="1195" y="435" width="1" height="22" fill="#000"/><rect x="1194" y="444" width="3" height="12" fill="#000"/><rect x="1199" y="443" width="1" height="13" fill="#000"/><rect x="1198" y="445" width="3" height="10" fill="#000"/><rect x="1199" y="446" width="1" height="8" fill="#fff"/><rect x="1203" y="437" width="1" height="14" fill="#000"/><rect x="1202" y="439" width="3" height="8" fill="#000"/><rect x="1203" y="440" width="1" height="6" fill="#fff"/><rect x="1207" y="427" width="1" height="15" fill="#000"/><rect x="1206" y="428" width="3" height="13" fill="#000"/><rect x="1207" y="429" width="1" height="11" fill="#fff"/><rect x="1211" y="410" width="1" height="20" fill="#000"/><rect x="1210" y="417" width="3" height="13" fill="#000"/><rect x="1211" y="418" width="1" height="11" fill="#fff"/><rect x="1215" y="395" width="1" height="30" fill="#000"/><rect x="1214" y="397" width="3" height="22" fill="#000"/><rect x="1215" y="398" width="1" height="20" fill="#fff"/><rect x="1219" y="396" width="1" height="32" fill="#000"/><rect x="1218" y="397" width="3" height="7" fill="#000"/><rect x="1223" y="397" width="1" height="25" fill="#000"/><rect x="1222" y="402" width="3" height="17" fill="#000"/><rect x="1227" y="407" width="1" height="20" fill="#000"/><rect x="1226" y="410" width="3" height="9" fill="#000"/><rect x="1227" y="411" width="1" height="7" fill="#fff"/><rect x="1231" y="382" width="1" height="38" fill="#000"/><rect x="1230" y="408" width="3" height="3" fill="#000"/><rect x="1231" y="409" width="1" height="1" fill="#fff"/><rect x="1235" y="396" width="1" height="24" fill="#000"/><rect x="1234" y="408" width="3" height="3" fill="#000"/><rect x="1239" y="403" width="1" height="33" fill="#000"/><rect x="1238" y="408" width="3" height="3" fill="#000"/><rect x="1239" y="409" width="1" height="1" fill="#fff"/><rect x="1243" y="389" width="1" height="31" fill="#000"/><rect x="1242" y="396" width="3" height="15" fill="#000"/><rect x="1243" y="397" width="1" height="13" fill="#fff"/><rect x="1247" y="377" width="1" height="21" fill="#000"/><rect x="1246" y="381" width="3" height="16" fill="#000"/><rect x="1247" y="382" width="1" height="14" fill="#fff"/><rect x="1251" y="377" width="1" height="11" fill="#000"/><rect x="1250" y="381" width="3" height="1" fill="#000"/><rect x="1255" y="367" width="1" height="16" fill="#000"/><rect x="1254" y="374" width="3" height="8" fill="#000"/><rect x="1255" y="375" width="1" height="6" fill="#fff"/><rect x="1259" y="369" width="1" height="13" fill="#000"/><rect x="1258" y="370" width="3" height="5" fill="#000"/><rect x="1259" y="371" width="1" height="3" fill="#fff"/><rect x="1263" y="352" width="1" height="19" fill="#000"/><rect x="1262" y="360" width="3" height="10" fill="#000"/><rect x="1263" y="361" width="1" height="8" fill="#fff"/><rect x="1267" y="298" width="1" height="64" fill="#000"/><rect x="1266" y="299" width="3" height="62" fill="#000"/><rect x="1267" y="300" width="1" height="60" fill="#fff"/><rect x="1271" y="290" width="1" height="23" fill="#000"/><rect x="1270" y="296" width="3" height="17" fill="#000"/><rect x="1271" y="297" width="1" height="15" fill="#fff"/><rect x="1275" y="292" width="1" height="11" fill="#000"/><rect x="1274" y="296" width="3" height="2" fill="#000"/><rect x="1279" y="295" width="1" height="11" fill="#000"/><rect x="1278" y="296" width="3" height="6" fill="#000"/><rect x="1283" y="297" width="1" height="10" fill="#000"/><rect x="1282" y="300" width="3" height="6" fill="#000"/><rect x="1287" y="291" width="1" height="22" fill="#000"/><rect x="1286" y="304" width="3" height="9" fill="#000"/><rect x="1291" y="274" width="1" height="39" fill="#000"/><rect x="1290" y="275" width="3" height="38" fill="#000"/><rect x="1291" y="276" width="1" height="36" fill="#fff"/><rect x="1295" y="273" width="1" height="24" fill="#000"/><rect x="1294" y="274" width="3" height="17" fill="#000"/><rect x="1299" y="285" width="1" height="11" fill="#000"/><rect x="1298" y="287" width="3" height="4" fill="#000"/><rect x="1299" y="288" width="1" height="2" fill="#fff"/><rect x="1303" y="286" width="1" height="8" fill="#000"/><rect x="1302" y="287" width="3" height="3" fill="#000"/><rect x="1307" y="289" width="1" height="24" fill="#000"/><rect x="1306" y="289" width="3" height="24" fill="#000"/><rect x="1311" y="287" width="1" height="26" fill="#000"/><rect x="1310" y="293" width="3" height="20" fill="#000"/><rect x="1311" y="294" width="1" height="18" fill="#fff"/><rect x="1315" y="276" width="1" height="31" fill="#000"/><rect x="1314" y="278" width="3" height="17" fill="#000"/><rect x="1315" y="279" width="1" height="15" fill="#fff"/><rect x="1319" y="256" width="1" height="25" fill="#000"/><rect x="1318" y="257" width="3" height="23" fill="#000"/><rect x="1319" y="258" width="1" height="21" fill="#fff"/><rect x="1323" y="190" width="1" height="36" fill="#000"/><rect x="1322" y="197" width="3" height="28" fill="#000"/><rect x="1323" y="198" width="1" height="26" fill="#fff"/><rect x="1327" y="187" width="1" height="17" fill="#000"/><rect x="1326" y="192" width="3" height="5" fill="#000"/><rect x="1327" y="193" width="1" height="3" fill="#fff"/><rect x="1331" y="182" width="1" height="14" fill="#000"/><rect x="1330" y="183" width="3" height="10" fill="#000"/><rect x="1331" y="184" width="1" height="8" fill="#fff"/><rect x="1335" y="183" width="1" height="17" fill="#000"/><rect x="1334" y="183" width="3" height="15" fill="#000"/><rect x="1339" y="194" width="1" height="42" fill="#000"/><rect x="1338" y="196" width="3" height="37" fill="#000"/><rect x="1343" y="220" width="1" height="23" fill="#000"/><rect x="1342" y="225" width="3" height="7" fill="#000"/><rect x="1343" y="226" width="1" height="5" fill="#fff"/><rect x="1347" y="214" width="1" height="19" fill="#000"/><rect x="1346" y="225" width="3" height="3" fill="#000"/><rect x="1351" y="224" width="1" height="15" fill="#000"/><rect x="1350" y="226" width="3" height="11" fill="#000"/><rect x="1355" y="234" width="1" height="22" fill="#000"/><rect x="1354" y="235" width="3" height="7" fill="#000"/><rect x="1359" y="232" width="1" height="16" fill="#000"/><rect x="1358" y="237" width="3" height="4" fill="#000"/><rect x="1359" y="238" width="1" height="2" fill="#fff"/><rect x="1363" y="227" width="1" height="26" fill="#000"/><rect x="1362" y="237" width="3" height="12" fill="#000"/><rect x="1367" y="242" width="1" height="100" fill="#000"/><rect x="1366" y="247" width="3" height="73" fill="#000"/><rect x="1371" y="316" width="1" height="31" fill="#000"/><rect x="1370" y="319" width="3" height="13" fill="#000"/><rect x="1375" y="322" width="1" height="14" fill="#000"/><rect x="1374" y="330" width="3" height="3" fill="#000"/><rect x="1379" y="324" width="1" height="11" fill="#000"/><rect x="1378" y="327" width="3" height="6" fill="#000"/><rect x="1379" y="328" width="1" height="4" fill="#fff"/><rect x="1383" y="319" width="1" height="17" fill="#000"/><rect x="1382" y="325" width="3" height="4" fill="#000"/><rect x="1383" y="326" width="1" height="2" fill="#fff"/><rect x="1387" y="318" width="1" height="12" fill="#000"/><rect x="1386" y="322" width="3" height="5" fill="#000"/><rect x="1387" y="323" width="1" height="3" fill="#fff"/><rect x="1391" y="324" width="1" height="89" fill="#000"/><rect x="1390" y="325" width="3" height="44" fill="#000"/><rect x="1395" y="363" width="1" height="36" fill="#000"/><rect x="1394" y="368" width="3" height="21" fill="#000"/><rect x="1399" y="367" width="1" height="31" fill="#000"/><rect x="1398" y="374" width="3" height="15" fill="#000"/><rect x="1399" y="375" width="1" height="13" fill="#fff"/><rect x="1403" y="371" width="1" height="41" fill="#000"/><rect x="1402" y="372" width="3" height="30" fill="#000"/><rect x="1407" y="391" width="1" height="42" fill="#000"/><rect x="1406" y="401" width="3" height="30" fill="#000"/><rect x="1411" y="384" width="1" height="74" fill="#000"/><rect x="1410" y="393" width="3" height="37" fill="#000"/><rect x="1411" y="394" width="1" height="35" fill="#fff"/><rect x="1415" y="349" width="1" height="48" fill="#000"/><rect x="1414" y="357" width="3" height="38" fill="#000"/><rect x="1415" y="358" width="1" height="36" fill="#fff"/><rect x="1419" y="354" width="1" height="9" fill="#000"/><rect x="1418" y="358" width="3" height="1" fill="#000"/></g>
<rect x="0" y="29" width="222" height="85" fill="#fff"/>
<rect x="0" y="185" width="1587" height="1" fill="#ff0000"/>
<rect x="0" y="245" width="1587" height="1" fill="#ff0000"/>
<rect x="0" y="315" width="1587" height="1" fill="#008000"/>
<rect x="0" y="398" width="1587" height="1" fill="#0000ff"/>
<rect x="0" y="454" width="1587" height="1" fill="#0000ff"/>
<rect x="-1.5" y="183.5" width="4" height="4" fill="#fff" stroke="#ff0000" stroke-width="1"/>
<rect x="1582.5" y="183.5" width="4" height="4" fill="#fff" stroke="#ff0000" stroke-width="1"/>
<rect x="-1.5" y="243.5" width="4" height="4" fill="#fff" stroke="#ff0000" stroke-width="1"/>
<rect x="1582.5" y="243.5" width="4" height="4" fill="#fff" stroke="#ff0000" stroke-width="1"/>
<rect x="-1.5" y="313.5" width="4" height="4" fill="#fff" stroke="#008000" stroke-width="1"/>
<rect x="1582.5" y="313.5" width="4" height="4" fill="#fff" stroke="#008000" stroke-width="1"/>
<rect x="-1.5" y="396.5" width="4" height="4" fill="#fff" stroke="#0000ff" stroke-width="1"/>
<rect x="1582.5" y="396.5" width="4" height="4" fill="#fff" stroke="#0000ff" stroke-width="1"/>
<rect x="-1.5" y="452.5" width="4" height="4" fill="#fff" stroke="#0000ff" stroke-width="1"/>
<rect x="1582.5" y="452.5" width="4" height="4" fill="#fff" stroke="#0000ff" stroke-width="1"/>
<rect x="1212" y="307" width="160" height="12" fill="#00ff00"/>
<rect x="1588" y="61" width="2" height="1" fill="#000"/><text x="1593" y="65" font-size="9.8" letter-spacing="-0.35" font-family="Liberation Sans, Arial, sans-serif" fill="#000">26892.5</text>
<rect x="1588" y="94" width="2" height="1" fill="#000"/><text x="1593" y="98" font-size="9.8" letter-spacing="-0.35" font-family="Liberation Sans, Arial, sans-serif" fill="#000">26671.5</text>
<rect x="1588" y="127" width="2" height="1" fill="#000"/><text x="1593" y="131" font-size="9.8" letter-spacing="-0.35" font-family="Liberation Sans, Arial, sans-serif" fill="#000">26450.5</text>
<rect x="1588" y="160" width="2" height="1" fill="#000"/><text x="1593" y="164" font-size="9.8" letter-spacing="-0.35" font-family="Liberation Sans, Arial, sans-serif" fill="#000">26229.5</text>
<rect x="1588" y="193" width="2" height="1" fill="#000"/><text x="1593" y="197" font-size="9.8" letter-spacing="-0.35" font-family="Liberation Sans, Arial, sans-serif" fill="#000">26015.0</text>
<rect x="1588" y="226" width="2" height="1" fill="#000"/><text x="1593" y="230" font-size="9.8" letter-spacing="-0.35" font-family="Liberation Sans, Arial, sans-serif" fill="#000">25794.0</text>
<rect x="1588" y="259" width="2" height="1" fill="#000"/><text x="1593" y="263" font-size="9.8" letter-spacing="-0.35" font-family="Liberation Sans, Arial, sans-serif" fill="#000">25573.0</text>
<rect x="1588" y="292" width="2" height="1" fill="#000"/><text x="1593" y="296" font-size="9.8" letter-spacing="-0.35" font-family="Liberation Sans, Arial, sans-serif" fill="#000">25352.0</text>
<rect x="1588" y="325" width="2" height="1" fill="#000"/><text x="1593" y="329" font-size="9.8" letter-spacing="-0.35" font-family="Liberation Sans, Arial, sans-serif" fill="#000">25131.0</text>
<rect x="1588" y="391" width="2" height="1" fill="#000"/><text x="1593" y="395" font-size="9.8" letter-spacing="-0.35" font-family="Liberation Sans, Arial, sans-serif" fill="#000">24689.0</text>
<rect x="1588" y="424" width="2" height="1" fill="#000"/><text x="1593" y="428" font-size="9.8" letter-spacing="-0.35" font-family="Liberation Sans, Arial, sans-serif" fill="#000">24468.0</text>
<rect x="1588" y="457" width="2" height="1" fill="#000"/><text x="1593" y="461" font-size="9.8" letter-spacing="-0.35" font-family="Liberation Sans, Arial, sans-serif" fill="#000">24247.0</text>
<rect x="1588" y="490" width="2" height="1" fill="#000"/><text x="1593" y="494" font-size="9.8" letter-spacing="-0.35" font-family="Liberation Sans, Arial, sans-serif" fill="#000">24032.5</text>
<rect x="1589" y="179" width="41" height="11" fill="#ff0000"/><text x="1593" y="188" font-size="9.8" letter-spacing="-0.35" font-family="Liberation Sans, Arial, sans-serif" fill="#fff">26064.8</text>
<rect x="1589" y="239" width="41" height="11" fill="#ff0000"/><text x="1593" y="248" font-size="9.8" letter-spacing="-0.35" font-family="Liberation Sans, Arial, sans-serif" fill="#fff">25665.1</text>
<rect x="1589" y="309" width="41" height="11" fill="#008000"/><text x="1593" y="318" font-size="9.8" letter-spacing="-0.35" font-family="Liberation Sans, Arial, sans-serif" fill="#fff">25198.8</text>
<rect x="1589" y="353" width="41" height="11" fill="#000000"/><text x="1593" y="362" font-size="9.8" letter-spacing="-0.35" font-family="Liberation Sans, Arial, sans-serif" fill="#fff">24914.0</text>
<rect x="1589" y="392" width="41" height="11" fill="#0000ff"/><text x="1593" y="401" font-size="9.8" letter-spacing="-0.35" font-family="Liberation Sans, Arial, sans-serif" fill="#fff">24645.9</text>
<rect x="1589" y="448" width="41" height="11" fill="#0000ff"/><text x="1593" y="457" font-size="9.8" letter-spacing="-0.35" font-family="Liberation Sans, Arial, sans-serif" fill="#fff">24272.8</text>
<rect x="1588" y="497" width="2" height="1" fill="#000"/>
<text x="1591" y="506" font-size="9.8" letter-spacing="-0.35" font-family="Liberation Sans, Arial, sans-serif" fill="#000" text-anchor="start">336.55</text>
<rect x="1588" y="576" width="2" height="1" fill="#000"/>
<text x="1591" y="580" font-size="9.8" letter-spacing="-0.35" font-family="Liberation Sans, Arial, sans-serif" fill="#000" text-anchor="start">0.00</text>
<rect x="1588" y="666" width="2" height="1" fill="#000"/>
<text x="1591" y="665" font-size="9.8" letter-spacing="-0.35" font-family="Liberation Sans, Arial, sans-serif" fill="#000" text-anchor="start">-383.28</text>
<rect x="1588" y="672" width="2" height="1" fill="#000"/>
<text x="1591" y="681" font-size="9.8" letter-spacing="-0.35" font-family="Liberation Sans, Arial, sans-serif" fill="#000" text-anchor="start">100</text>
<rect x="1588" y="698" width="2" height="1" fill="#000"/>
<text x="1591" y="702" font-size="9.8" letter-spacing="-0.35" font-family="Liberation Sans, Arial, sans-serif" fill="#000" text-anchor="start">80</text>
<rect x="1588" y="737" width="2" height="1" fill="#000"/>
<text x="1591" y="741" font-size="9.8" letter-spacing="-0.35" font-family="Liberation Sans, Arial, sans-serif" fill="#000" text-anchor="start">50</text>
<rect x="1588" y="784" width="2" height="1" fill="#000"/>
<text x="1591" y="788" font-size="9.8" letter-spacing="-0.35" font-family="Liberation Sans, Arial, sans-serif" fill="#000" text-anchor="start">15</text>
<rect x="1588" y="802" width="2" height="1" fill="#000"/>
<text x="1591" y="801" font-size="9.8" letter-spacing="-0.35" font-family="Liberation Sans, Arial, sans-serif" fill="#000" text-anchor="start">0</text>
<g><rect x="3" y="574" width="1" height="3" fill="#c0c0c0"/><rect x="7" y="572" width="1" height="5" fill="#c0c0c0"/><rect x="11" y="570" width="1" height="7" fill="#c0c0c0"/><rect x="15" y="568" width="1" height="9" fill="#c0c0c0"/><rect x="19" y="566" width="1" height="11" fill="#c0c0c0"/><rect x="23" y="564" width="1" height="13" fill="#c0c0c0"/><rect x="27" y="562" width="1" height="15" fill="#c0c0c0"/><rect x="31" y="560" width="1" height="17" fill="#c0c0c0"/><rect x="35" y="558" width="1" height="19" fill="#c0c0c0"/><rect x="39" y="556" width="1" height="21" fill="#c0c0c0"/><rect x="43" y="555" width="1" height="22" fill="#c0c0c0"/><rect x="47" y="553" width="1" height="24" fill="#c0c0c0"/><rect x="51" y="550" width="1" height="27" fill="#c0c0c0"/><rect x="55" y="547" width="1" height="30" fill="#c0c0c0"/><rect x="59" y="543" width="1" height="34" fill="#c0c0c0"/><rect x="63" y="540" width="1" height="37" fill="#c0c0c0"/><rect x="67" y="539" width="1" height="38" fill="#c0c0c0"/><rect x="71" y="538" width="1" height="39" fill="#c0c0c0"/><rect x="75" y="538" width="1" height="39" fill="#c0c0c0"/><rect x="79" y="538" width="1" height="39" fill="#c0c0c0"/><rect x="83" y="539" width="1" height="38" fill="#c0c0c0"/><rect x="87" y="541" width="1" height="36" fill="#c0c0c0"/><rect x="91" y="543" width="1" height="34" fill="#c0c0c0"/><rect x="95" y="546" width="1" height="31" fill="#c0c0c0"/><rect x="99" y="548" width="1" height="29" fill="#c0c0c0"/><rect x="103" y="552" width="1" height="25" fill="#c0c0c0"/><rect x="107" y="555" width="1" height="22" fill="#c0c0c0"/><rect x="111" y="558" width="1" height="19" fill="#c0c0c0"/><rect x="115" y="560" width="1" height="17" fill="#c0c0c0"/><rect x="119" y="561" width="1" height="16" fill="#c0c0c0"/><rect x="123" y="563" width="1" height="14" fill="#c0c0c0"/><rect x="127" y="565" width="1" height="12" fill="#c0c0c0"/><rect x="131" y="568" width="1" height="9" fill="#c0c0c0"/><rect x="135" y="570" width="1" height="7" fill="#c0c0c0"/><rect x="139" y="572" width="1" height="5" fill="#c0c0c0"/><rect x="143" y="573" width="1" height="4" fill="#c0c0c0"/><rect x="147" y="575" width="1" height="2" fill="#c0c0c0"/><rect x="151" y="576" width="1" height="1" fill="#c0c0c0"/><rect x="155" y="576" width="1" height="2" fill="#c0c0c0"/><rect x="159" y="576" width="1" height="3" fill="#c0c0c0"/><rect x="163" y="576" width="1" height="6" fill="#c0c0c0"/><rect x="167" y="576" width="1" height="8" fill="#c0c0c0"/><rect x="171" y="576" width="1" height="10" fill="#c0c0c0"/><rect x="175" y="576" width="1" height="9" fill="#c0c0c0"/><rect x="179" y="576" width="1" height="8" fill="#c0c0c0"/><rect x="183" y="576" width="1" height="9" fill="#c0c0c0"/><rect x="187" y="576" width="1" height="9" fill="#c0c0c0"/><rect x="191" y="576" width="1" height="9" fill="#c0c0c0"/><rect x="195" y="576" width="1" height="9" fill="#c0c0c0"/><rect x="199" y="576" width="1" height="8" fill="#c0c0c0"/><rect x="203" y="576" width="1" height="7" fill="#c0c0c0"/><rect x="207" y="576" width="1" height="7" fill="#c0c0c0"/><rect x="211" y="576" width="1" height="4" fill="#c0c0c0"/><rect x="215" y="576" width="1" height="1" fill="#c0c0c0"/><rect x="219" y="574" width="1" height="3" fill="#c0c0c0"/><rect x="223" y="572" width="1" height="5" fill="#c0c0c0"/><rect x="227" y="569" width="1" height="8" fill="#c0c0c0"/><rect x="231" y="568" width="1" height="9" fill="#c0c0c0"/><rect x="235" y="568" width="1" height="9" fill="#c0c0c0"/><rect x="239" y="568" width="1" height="9" fill="#c0c0c0"/><rect x="243" y="568" width="1" height="9" fill="#c0c0c0"/><rect x="247" y="568" width="1" height="9" fill="#c0c0c0"/><rect x="251" y="566" width="1" height="11" fill="#c0c0c0"/><rect x="255" y="565" width="1" height="12" fill="#c0c0c0"/><rect x="259" y="563" width="1" height="14" fill="#c0c0c0"/><rect x="263" y="562" width="1" height="15" fill="#c0c0c0"/><rect x="267" y="560" width="1" height="17" fill="#c0c0c0"/><rect x="271" y="558" width="1" height="19" fill="#c0c0c0"/><rect x="275" y="557" width="1" height="20" fill="#c0c0c0"/><rect x="279" y="556" width="1" height="21" fill="#c0c0c0"/><rect x="283" y="557" width="1" height="20" fill="#c0c0c0"/><rect x="287" y="559" width="1" height="18" fill="#c0c0c0"/><rect x="291" y="561" width="1" height="16" fill="#c0c0c0"/><rect x="295" y="564" width="1" height="13" fill="#c0c0c0"/><rect x="299" y="568" width="1" height="9" fill="#c0c0c0"/><rect x="303" y="570" width="1" height="7" fill="#c0c0c0"/><rect x="307" y="572" width="1" height="5" fill="#c0c0c0"/><rect x="311" y="574" width="1" height="3" fill="#c0c0c0"/><rect x="315" y="576" width="1" height="1" fill="#c0c0c0"/><rect x="319" y="576" width="1" height="2" fill="#c0c0c0"/><rect x="323" y="576" width="1" height="6" fill="#c0c0c0"/><rect x="327" y="576" width="1" height="9" fill="#c0c0c0"/><rect x="331" y="576" width="1" height="11" fill="#c0c0c0"/><rect x="335" y="576" width="1" height="13" fill="#c0c0c0"/><rect x="339" y="576" width="1" height="15" fill="#c0c0c0"/><rect x="343" y="576" width="1" height="16" fill="#c0c0c0"/><rect x="347" y="576" width="1" height="18" fill="#c0c0c0"/><rect x="351" y="576" width="1" height="20" fill="#c0c0c0"/><rect x="355" y="576" width="1" height="19" fill="#c0c0c0"/><rect x="359" y="576" width="1" height="17" fill="#c0c0c0"/><rect x="363" y="576" width="1" height="17" fill="#c0c0c0"/><rect x="367" y="576" width="1" height="17" fill="#c0c0c0"/><rect x="371" y="576" width="1" height="17" fill="#c0c0c0"/><rect x="375" y="576" width="1" height="16" fill="#c0c0c0"/><rect x="379" y="576" width="1" height="16" fill="#c0c0c0"/><rect x="383" y="576" width="1" height="16" fill="#c0c0c0"/><rect x="387" y="576" width="1" height="16" fill="#c0c0c0"/><rect x="391" y="576" width="1" height="12" fill="#c0c0c0"/><rect x="395" y="576" width="1" height="15" fill="#c0c0c0"/><rect x="399" y="576" width="1" height="18" fill="#c0c0c0"/><rect x="403" y="576" width="1" height="30" fill="#c0c0c0"/><rect x="407" y="576" width="1" height="45" fill="#c0c0c0"/><rect x="411" y="576" width="1" height="56" fill="#c0c0c0"/><rect x="415" y="576" width="1" height="67" fill="#c0c0c0"/><rect x="419" y="576" width="1" height="73" fill="#c0c0c0"/><rect x="423" y="576" width="1" height="76" fill="#c0c0c0"/><rect x="427" y="576" width="1" height="83" fill="#c0c0c0"/><rect x="431" y="576" width="1" height="85" fill="#c0c0c0"/><rect x="435" y="576" width="1" height="82" fill="#c0c0c0"/><rect x="439" y="576" width="1" height="78" fill="#c0c0c0"/><rect x="443" y="576" width="1" height="77" fill="#c0c0c0"/><rect x="447" y="576" width="1" height="75" fill="#c0c0c0"/><rect x="451" y="576" width="1" height="74" fill="#c0c0c0"/><rect x="455" y="576" width="1" height="70" fill="#c0c0c0"/><rect x="459" y="576" width="1" height="68" fill="#c0c0c0"/><rect x="463" y="576" width="1" height="66" fill="#c0c0c0"/><rect x="467" y="576" width="1" height="64" fill="#c0c0c0"/><rect x="471" y="576" width="1" height="62" fill="#c0c0c0"/><rect x="475" y="576" width="1" height="58" fill="#c0c0c0"/><rect x="479" y="576" width="1" height="55" fill="#c0c0c0"/><rect x="483" y="576" width="1" height="54" fill="#c0c0c0"/><rect x="487" y="576" width="1" height="50" fill="#c0c0c0"/><rect x="491" y="576" width="1" height="48" fill="#c0c0c0"/><rect x="495" y="576" width="1" height="44" fill="#c0c0c0"/><rect x="499" y="576" width="1" height="35" fill="#c0c0c0"/><rect x="503" y="576" width="1" height="25" fill="#c0c0c0"/><rect x="507" y="576" width="1" height="17" fill="#c0c0c0"/><rect x="511" y="576" width="1" height="9" fill="#c0c0c0"/><rect x="515" y="576" width="1" height="4" fill="#c0c0c0"/><rect x="519" y="576" width="1" height="2" fill="#c0c0c0"/><rect x="523" y="576" width="1" height="1" fill="#c0c0c0"/><rect x="527" y="574" width="1" height="3" fill="#c0c0c0"/><rect x="531" y="573" width="1" height="4" fill="#c0c0c0"/><rect x="535" y="572" width="1" height="5" fill="#c0c0c0"/><rect x="539" y="571" width="1" height="6" fill="#c0c0c0"/><rect x="543" y="573" width="1" height="4" fill="#c0c0c0"/><rect x="547" y="576" width="1" height="1" fill="#c0c0c0"/><rect x="551" y="576" width="1" height="6" fill="#c0c0c0"/><rect x="555" y="576" width="1" height="8" fill="#c0c0c0"/><rect x="559" y="576" width="1" height="11" fill="#c0c0c0"/><rect x="563" y="576" width="1" height="12" fill="#c0c0c0"/><rect x="567" y="576" width="1" height="11" fill="#c0c0c0"/><rect x="571" y="576" width="1" height="10" fill="#c0c0c0"/><rect x="575" y="576" width="1" height="10" fill="#c0c0c0"/><rect x="579" y="576" width="1" height="11" fill="#c0c0c0"/><rect x="583" y="576" width="1" height="13" fill="#c0c0c0"/><rect x="587" y="576" width="1" height="11" fill="#c0c0c0"/><rect x="591" y="576" width="1" height="10" fill="#c0c0c0"/><rect x="595" y="576" width="1" height="8" fill="#c0c0c0"/><rect x="599" y="576" width="1" height="9" fill="#c0c0c0"/><rect x="603" y="576" width="1" height="13" fill="#c0c0c0"/><rect x="607" y="576" width="1" height="16" fill="#c0c0c0"/><rect x="611" y="576" width="1" height="20" fill="#c0c0c0"/><rect x="615" y="576" width="1" height="25" fill="#c0c0c0"/><rect x="619" y="576" width="1" height="30" fill="#c0c0c0"/><rect x="623" y="576" width="1" height="36" fill="#c0c0c0"/><rect x="627" y="576" width="1" height="34" fill="#c0c0c0"/><rect x="631" y="576" width="1" height="30" fill="#c0c0c0"/><rect x="635" y="576" width="1" height="28" fill="#c0c0c0"/><rect x="639" y="576" width="1" height="25" fill="#c0c0c0"/><rect x="643" y="576" width="1" height="23" fill="#c0c0c0"/><rect x="647" y="576" width="1" height="23" fill="#c0c0c0"/><rect x="651" y="576" width="1" height="32" fill="#c0c0c0"/><rect x="655" y="576" width="1" height="39" fill="#c0c0c0"/><rect x="659" y="576" width="1" height="43" fill="#c0c0c0"/><rect x="663" y="576" width="1" height="44" fill="#c0c0c0"/><rect x="667" y="576" width="1" height="45" fill="#c0c0c0"/><rect x="671" y="576" width="1" height="42" fill="#c0c0c0"/><rect x="675" y="576" width="1" height="39" fill="#c0c0c0"/><rect x="679" y="576" width="1" height="37" fill="#c0c0c0"/><rect x="683" y="576" width="1" height="40" fill="#c0c0c0"/><rect x="687" y="576" width="1" height="42" fill="#c0c0c0"/><rect x="691" y="576" width="1" height="43" fill="#c0c0c0"/><rect x="695" y="576" width="1" height="42" fill="#c0c0c0"/><rect x="699" y="576" width="1" height="40" fill="#c0c0c0"/><rect x="703" y="576" width="1" height="37" fill="#c0c0c0"/><rect x="707" y="576" width="1" height="34" fill="#c0c0c0"/><rect x="711" y="576" width="1" height="32" fill="#c0c0c0"/><rect x="715" y="576" width="1" height="30" fill="#c0c0c0"/><rect x="719" y="576" width="1" height="26" fill="#c0c0c0"/><rect x="723" y="576" width="1" height="24" fill="#c0c0c0"/><rect x="727" y="576" width="1" height="28" fill="#c0c0c0"/><rect x="731" y="576" width="1" height="31" fill="#c0c0c0"/><rect x="735" y="576" width="1" height="32" fill="#c0c0c0"/><rect x="739" y="576" width="1" height="33" fill="#c0c0c0"/><rect x="743" y="576" width="1" height="32" fill="#c0c0c0"/><rect x="747" y="576" width="1" height="29" fill="#c0c0c0"/><rect x="751" y="576" width="1" height="24" fill="#c0c0c0"/><rect x="755" y="576" width="1" height="18" fill="#c0c0c0"/><rect x="759" y="576" width="1" height="13" fill="#c0c0c0"/><rect x="763" y="576" width="1" height="7" fill="#c0c0c0"/><rect x="767" y="576" width="1" height="2" fill="#c0c0c0"/><rect x="771" y="572" width="1" height="5" fill="#c0c0c0"/><rect x="775" y="568" width="1" height="9" fill="#c0c0c0"/><rect x="779" y="564" width="1" height="13" fill="#c0c0c0"/><rect x="783" y="560" width="1" height="17" fill="#c0c0c0"/><rect x="787" y="558" width="1" height="19" fill="#c0c0c0"/><rect x="791" y="556" width="1" height="21" fill="#c0c0c0"/><rect x="795" y="553" width="1" height="24" fill="#c0c0c0"/><rect x="799" y="549" width="1" height="28" fill="#c0c0c0"/><rect x="803" y="547" width="1" height="30" fill="#c0c0c0"/><rect x="807" y="546" width="1" height="31" fill="#c0c0c0"/><rect x="811" y="542" width="1" height="35" fill="#c0c0c0"/><rect x="815" y="535" width="1" height="42" fill="#c0c0c0"/><rect x="819" y="539" width="1" height="38" fill="#c0c0c0"/><rect x="823" y="544" width="1" height="33" fill="#c0c0c0"/><rect x="827" y="546" width="1" height="31" fill="#c0c0c0"/><rect x="831" y="550" width="1" height="27" fill="#c0c0c0"/><rect x="835" y="554" width="1" height="23" fill="#c0c0c0"/><rect x="839" y="557" width="1" height="20" fill="#c0c0c0"/><rect x="843" y="558" width="1" height="19" fill="#c0c0c0"/><rect x="847" y="556" width="1" height="21" fill="#c0c0c0"/><rect x="851" y="554" width="1" height="23" fill="#c0c0c0"/><rect x="855" y="553" width="1" height="24" fill="#c0c0c0"/><rect x="859" y="552" width="1" height="25" fill="#c0c0c0"/><rect x="863" y="551" width="1" height="26" fill="#c0c0c0"/><rect x="867" y="552" width="1" height="25" fill="#c0c0c0"/><rect x="871" y="553" width="1" height="24" fill="#c0c0c0"/><rect x="875" y="552" width="1" height="25" fill="#c0c0c0"/><rect x="879" y="550" width="1" height="27" fill="#c0c0c0"/><rect x="883" y="546" width="1" height="31" fill="#c0c0c0"/><rect x="887" y="545" width="1" height="32" fill="#c0c0c0"/><rect x="891" y="542" width="1" height="35" fill="#c0c0c0"/><rect x="895" y="539" width="1" height="38" fill="#c0c0c0"/><rect x="899" y="533" width="1" height="44" fill="#c0c0c0"/><rect x="903" y="528" width="1" height="49" fill="#c0c0c0"/><rect x="907" y="522" width="1" height="55" fill="#c0c0c0"/><rect x="911" y="520" width="1" height="57" fill="#c0c0c0"/><rect x="915" y="519" width="1" height="58" fill="#c0c0c0"/><rect x="919" y="518" width="1" height="59" fill="#c0c0c0"/><rect x="923" y="519" width="1" height="58" fill="#c0c0c0"/><rect x="927" y="519" width="1" height="58" fill="#c0c0c0"/><rect x="931" y="521" width="1" height="56" fill="#c0c0c0"/><rect x="935" y="522" width="1" height="55" fill="#c0c0c0"/><rect x="939" y="527" width="1" height="50" fill="#c0c0c0"/><rect x="943" y="531" width="1" height="46" fill="#c0c0c0"/><rect x="947" y="536" width="1" height="41" fill="#c0c0c0"/><rect x="951" y="540" width="1" height="37" fill="#c0c0c0"/><rect x="955" y="544" width="1" height="33" fill="#c0c0c0"/><rect x="959" y="546" width="1" height="31" fill="#c0c0c0"/><rect x="963" y="548" width="1" height="29" fill="#c0c0c0"/><rect x="967" y="552" width="1" height="25" fill="#c0c0c0"/><rect x="971" y="560" width="1" height="17" fill="#c0c0c0"/><rect x="975" y="569" width="1" height="8" fill="#c0c0c0"/><rect x="979" y="576" width="1" height="3" fill="#c0c0c0"/><rect x="983" y="576" width="1" height="9" fill="#c0c0c0"/><rect x="987" y="576" width="1" height="14" fill="#c0c0c0"/><rect x="991" y="576" width="1" height="17" fill="#c0c0c0"/><rect x="995" y="576" width="1" height="22" fill="#c0c0c0"/><rect x="999" y="576" width="1" height="28" fill="#c0c0c0"/><rect x="1003" y="576" width="1" height="29" fill="#c0c0c0"/><rect x="1007" y="576" width="1" height="31" fill="#c0c0c0"/><rect x="1011" y="576" width="1" height="32" fill="#c0c0c0"/><rect x="1015" y="576" width="1" height="33" fill="#c0c0c0"/><rect x="1019" y="576" width="1" height="35" fill="#c0c0c0"/><rect x="1023" y="576" width="1" height="37" fill="#c0c0c0"/><rect x="1027" y="576" width="1" height="41" fill="#c0c0c0"/><rect x="1031" y="576" width="1" height="44" fill="#c0c0c0"/><rect x="1035" y="576" width="1" height="44" fill="#c0c0c0"/><rect x="1039" y="576" width="1" height="43" fill="#c0c0c0"/><rect x="1043" y="576" width="1" height="46" fill="#c0c0c0"/><rect x="1047" y="576" width="1" height="42" fill="#c0c0c0"/><rect x="1051" y="576" width="1" height="37" fill="#c0c0c0"/><rect x="1055" y="576" width="1" height="34" fill="#c0c0c0"/><rect x="1059" y="576" width="1" height="30" fill="#c0c0c0"/><rect x="1063" y="576" width="1" height="29" fill="#c0c0c0"/><rect x="1067" y="576" width="1" height="23" fill="#c0c0c0"/><rect x="1071" y="576" width="1" height="18" fill="#c0c0c0"/><rect x="1075" y="576" width="1" height="15" fill="#c0c0c0"/><rect x="1079" y="576" width="1" height="12" fill="#c0c0c0"/><rect x="1083" y="576" width="1" height="10" fill="#c0c0c0"/><rect x="1087" y="576" width="1" height="8" fill="#c0c0c0"/><rect x="1091" y="576" width="1" height="6" fill="#c0c0c0"/><rect x="1095" y="576" width="1" height="9" fill="#c0c0c0"/><rect x="1099" y="576" width="1" height="12" fill="#c0c0c0"/><rect x="1103" y="576" width="1" height="18" fill="#c0c0c0"/><rect x="1107" y="576" width="1" height="21" fill="#c0c0c0"/><rect x="1111" y="576" width="1" height="25" fill="#c0c0c0"/><rect x="1115" y="576" width="1" height="28" fill="#c0c0c0"/><rect x="1119" y="576" width="1" height="35" fill="#c0c0c0"/><rect x="1123" y="576" width="1" height="43" fill="#c0c0c0"/><rect x="1127" y="576" width="1" height="51" fill="#c0c0c0"/><rect x="1131" y="576" width="1" height="54" fill="#c0c0c0"/><rect x="1135" y="576" width="1" height="54" fill="#c0c0c0"/><rect x="1139" y="576" width="1" height="55" fill="#c0c0c0"/><rect x="1143" y="576" width="1" height="55" fill="#c0c0c0"/><rect x="1147" y="576" width="1" height="53" fill="#c0c0c0"/><rect x="1151" y="576" width="1" height="51" fill="#c0c0c0"/><rect x="1155" y="576" width="1" height="51" fill="#c0c0c0"/><rect x="1159" y="576" width="1" height="52" fill="#c0c0c0"/><rect x="1163" y="576" width="1" height="54" fill="#c0c0c0"/><rect x="1167" y="576" width="1" height="53" fill="#c0c0c0"/><rect x="1171" y="576" width="1" height="51" fill="#c0c0c0"/><rect x="1175" y="576" width="1" height="50" fill="#c0c0c0"/><rect x="1179" y="576" width="1" height="49" fill="#c0c0c0"/><rect x="1183" y="576" width="1" height="48" fill="#c0c0c0"/><rect x="1187" y="576" width="1" height="47" fill="#c0c0c0"/><rect x="1191" y="576" width="1" height="46" fill="#c0c0c0"/><rect x="1195" y="576" width="1" height="44" fill="#c0c0c0"/><rect x="1199" y="576" width="1" height="43" fill="#c0c0c0"/><rect x="1203" y="576" width="1" height="40" fill="#c0c0c0"/><rect x="1207" y="576" width="1" height="36" fill="#c0c0c0"/><rect x="1211" y="576" width="1" height="31" fill="#c0c0c0"/><rect x="1215" y="576" width="1" height="26" fill="#c0c0c0"/><rect x="1219" y="576" width="1" height="21" fill="#c0c0c0"/><rect x="1223" y="576" width="1" height="18" fill="#c0c0c0"/><rect x="1227" y="576" width="1" height="15" fill="#c0c0c0"/><rect x="1231" y="576" width="1" height="12" fill="#c0c0c0"/><rect x="1235" y="576" width="1" height="10" fill="#c0c0c0"/><rect x="1239" y="576" width="1" height="8" fill="#c0c0c0"/><rect x="1243" y="576" width="1" height="5" fill="#c0c0c0"/><rect x="1247" y="576" width="1" height="2" fill="#c0c0c0"/><rect x="1251" y="574" width="1" height="3" fill="#c0c0c0"/><rect x="1255" y="570" width="1" height="7" fill="#c0c0c0"/><rect x="1259" y="567" width="1" height="10" fill="#c0c0c0"/><rect x="1263" y="563" width="1" height="14" fill="#c0c0c0"/><rect x="1267" y="554" width="1" height="23" fill="#c0c0c0"/><rect x="1271" y="547" width="1" height="30" fill="#c0c0c0"/><rect x="1275" y="541" width="1" height="36" fill="#c0c0c0"/><rect x="1279" y="536" width="1" height="41" fill="#c0c0c0"/><rect x="1283" y="533" width="1" height="44" fill="#c0c0c0"/><rect x="1287" y="532" width="1" height="45" fill="#c0c0c0"/><rect x="1291" y="530" width="1" height="47" fill="#c0c0c0"/><rect x="1295" y="528" width="1" height="49" fill="#c0c0c0"/><rect x="1299" y="527" width="1" height="50" fill="#c0c0c0"/><rect x="1303" y="527" width="1" height="50" fill="#c0c0c0"/><rect x="1307" y="530" width="1" height="47" fill="#c0c0c0"/><rect x="1311" y="532" width="1" height="45" fill="#c0c0c0"/><rect x="1315" y="532" width="1" height="45" fill="#c0c0c0"/><rect x="1319" y="528" width="1" height="49" fill="#c0c0c0"/><rect x="1323" y="520" width="1" height="57" fill="#c0c0c0"/><rect x="1327" y="513" width="1" height="64" fill="#c0c0c0"/><rect x="1331" y="507" width="1" height="70" fill="#c0c0c0"/><rect x="1335" y="505" width="1" height="72" fill="#c0c0c0"/><rect x="1339" y="508" width="1" height="69" fill="#c0c0c0"/><rect x="1343" y="511" width="1" height="66" fill="#c0c0c0"/><rect x="1347" y="514" width="1" height="63" fill="#c0c0c0"/><rect x="1351" y="519" width="1" height="58" fill="#c0c0c0"/><rect x="1355" y="524" width="1" height="53" fill="#c0c0c0"/><rect x="1359" y="527" width="1" height="50" fill="#c0c0c0"/><rect x="1363" y="531" width="1" height="46" fill="#c0c0c0"/><rect x="1367" y="544" width="1" height="33" fill="#c0c0c0"/><rect x="1371" y="557" width="1" height="20" fill="#c0c0c0"/><rect x="1375" y="567" width="1" height="10" fill="#c0c0c0"/><rect x="1379" y="575" width="1" height="2" fill="#c0c0c0"/><rect x="1383" y="576" width="1" height="4" fill="#c0c0c0"/><rect x="1387" y="576" width="1" height="8" fill="#c0c0c0"/><rect x="1391" y="576" width="1" height="17" fill="#c0c0c0"/><rect x="1395" y="576" width="1" height="26" fill="#c0c0c0"/><rect x="1399" y="576" width="1" height="31" fill="#c0c0c0"/><rect x="1403" y="576" width="1" height="38" fill="#c0c0c0"/><rect x="1407" y="576" width="1" height="47" fill="#c0c0c0"/><rect x="1411" y="576" width="1" height="50" fill="#c0c0c0"/><rect x="1415" y="576" width="1" height="47" fill="#c0c0c0"/><rect x="1419" y="576" width="1" height="43" fill="#c0c0c0"/></g>
<path d="M-1.5,571V572M0.5,571V572M1.5,571V572M5.5,571V572M6.5,571V572M7.5,571V572M11.5,571V572M12.5,571V572M13.5,571V572M17.5,571V572M18.5,570V571M19.5,570V571M23.5,569V570M24.5,569V570M25.5,569V570M29.5,567V568M30.5,567V568M31.5,566V567M35.5,564V565M36.5,564V565M37.5,564V565M41.5,562V563M42.5,562V563M43.5,561V562M47.5,559V560M48.5,558V559M49.5,558V559M53.5,555V556M54.5,555V556M55.5,554V555M59.5,552V553M60.5,551V552M61.5,551V552M65.5,548V549M66.5,548V549M67.5,547V548M71.5,545V546M72.5,545V546M73.5,545V546M77.5,543V544M78.5,543V544M79.5,542V543M83.5,541V542M84.5,541V542M85.5,541V542M89.5,540V541M90.5,540V541M91.5,540V541M95.5,540V541M96.5,540V541M97.5,540V541M101.5,541V542M102.5,542V543M103.5,542V543M107.5,544V545M108.5,545V546M109.5,545V546M113.5,547V548M114.5,548V549M115.5,548V549M119.5,551V552M120.5,552V553M121.5,552V553M125.5,555V556M126.5,555V556M127.5,556V557M131.5,558V559M132.5,559V560M133.5,560V561M137.5,562V563M138.5,563V564M139.5,563V564M143.5,565V566M144.5,565V566M145.5,566V567M149.5,567V568M150.5,568V569M151.5,568V569M155.5,570V571M156.5,571V572M157.5,571V572M161.5,573V574M162.5,574V575M163.5,574V575M167.5,575V576M168.5,576V577M169.5,576V577M173.5,578V579M174.5,579V580M175.5,579V580M179.5,580V581M180.5,580V581M181.5,581V582M185.5,582V583M186.5,582V583M187.5,582V583M191.5,583V584M192.5,583V584M193.5,583V584M197.5,583V584M198.5,583V584M199.5,583V584M203.5,583V584M204.5,583V584M205.5,583V584M209.5,583V584M210.5,582V583M211.5,582V583M215.5,582V583M216.5,582V583M217.5,581V582M221.5,580V581M222.5,579V580M223.5,579V580M227.5,578V579M228.5,578V579M229.5,577V578M233.5,575V576M234.5,575V576M235.5,574V575M239.5,573V574M240.5,573V574M241.5,572V573M245.5,570V571M246.5,570V571M247.5,569V570M251.5,568V569M252.5,568V569M253.5,568V569M257.5,567V568M258.5,566V567M259.5,566V567M263.5,565V566M264.5,565V566M265.5,565V566M269.5,564V565M270.5,563V564M271.5,563V564M275.5,562V563M276.5,562V563M277.5,561V562M281.5,560V561M282.5,560V561M283.5,560V561M287.5,559V560M288.5,559V560M289.5,559V560M293.5,559V560M294.5,559V560M295.5,559V560M299.5,559V560M300.5,559V560M301.5,560V561M305.5,561V562M306.5,562V563M307.5,562V563M311.5,563V564M312.5,564V565M313.5,564V565M317.5,566V567M318.5,567V568M319.5,567V568M323.5,570V571M324.5,571V572M325.5,572V573M329.5,575V576M330.5,575V576M331.5,576V577M335.5,578V579M336.5,579V580M337.5,580V581M341.5,583V584M342.5,583V584M343.5,584V585M347.5,586V587M348.5,587V588M349.5,587V588M353.5,589V590M354.5,590V591M355.5,590V591M359.5,591V592M360.5,591V592M361.5,592V593M365.5,592V593M366.5,592V593M367.5,592V593M371.5,592V593M372.5,592V593M373.5,592V593M377.5,592V593M378.5,592V593M379.5,592V593M383.5,591V592M384.5,591V592M385.5,591V592M389.5,590V591M390.5,590V591M391.5,590V591M395.5,590V591M396.5,590V591M397.5,590V591M401.5,591V592M402.5,591V592M403.5,591V592M407.5,594V595M408.5,595V596M409.5,596V597M412.5,600V602M413.5,602V603M416.5,606V608M417.5,608V609M419.5,612V614M420.5,614V615M422.5,618V619M423.5,619V621M425.5,624V626M426.5,626V627M428.5,630V631M429.5,631V633M432.5,636V638M433.5,638V639M436.5,642V644M437.5,644V645M440.5,648V649M441.5,649V650M442.5,649V650M446.5,652V653M447.5,653V654M448.5,653V654M452.5,654V655M453.5,654V655M454.5,653V654M458.5,652V653M459.5,652V653M460.5,652V653M464.5,650V651M465.5,649V650M466.5,649V650M470.5,646V647M471.5,645V646M472.5,645V646M476.5,643V644M477.5,642V643M478.5,642V643M482.5,640V641M483.5,639V640M484.5,639V640M488.5,636V637M489.5,636V637M490.5,635V636M494.5,633V634M495.5,632V633M496.5,631V632M499.5,627V628M500.5,626V627M501.5,625V626M505.5,620V622M506.5,619V620M509.5,615V616M510.5,614V615M511.5,613V614M514.5,608V610M515.5,607V608M518.5,602V604M519.5,601V602M522.5,597V598M523.5,596V597M524.5,595V596M526.5,591V592M527.5,590V591M528.5,589V590M531.5,585V586M532.5,584V585M533.5,583V584M537.5,580V581M538.5,579V580M539.5,578V579M543.5,576V577M544.5,576V577M545.5,576V577M549.5,575V576M550.5,575V576M551.5,575V576M555.5,575V576M556.5,575V576M557.5,576V577M561.5,577V578M562.5,578V579M563.5,578V579M567.5,579V580M568.5,580V581M569.5,580V581M573.5,582V583M574.5,583V584M575.5,583V584M579.5,585V586M580.5,585V586M581.5,586V587M585.5,587V588M586.5,587V588M587.5,587V588M591.5,587V588M592.5,587V588M593.5,587V588M597.5,587V588M598.5,587V588M599.5,587V588M603.5,587V588M604.5,587V588M605.5,587V588M609.5,588V589M610.5,588V589M611.5,588V589M615.5,589V590M616.5,590V591M617.5,591V592M621.5,593V594M622.5,594V595M623.5,594V595M627.5,597V598M628.5,598V599M629.5,598V599M633.5,600V601M634.5,601V602M635.5,601V602M639.5,602V603M640.5,602V603M641.5,603V604M645.5,603V604M646.5,603V604M647.5,603V604M651.5,604V605M652.5,604V605M653.5,605V606M657.5,606V607M658.5,606V607M659.5,606V607M663.5,608V609M664.5,608V609M665.5,609V610M669.5,610V611M670.5,611V612M671.5,611V612M675.5,612V613M676.5,613V614M677.5,613V614M681.5,615V616M682.5,615V616M683.5,615V616M687.5,616V617M688.5,616V617M689.5,616V617M693.5,616V617M694.5,616V617M695.5,616V617M699.5,616V617M700.5,616V617M701.5,616V617M705.5,615V616M706.5,614V615M707.5,614V615M711.5,613V614M712.5,613V614M713.5,613V614M717.5,612V613M718.5,611V612M719.5,611V612M723.5,610V611M724.5,610V611M725.5,609V610M729.5,608V609M730.5,608V609M731.5,608V609M735.5,607V608M736.5,607V608M737.5,607V608M741.5,607V608M742.5,606V607M743.5,606V607M747.5,606V607M748.5,606V607M749.5,606V607M753.5,605V606M754.5,605V606M755.5,605V606M759.5,604V605M760.5,603V604M761.5,603V604M765.5,600V601M766.5,599V600M767.5,598V599M771.5,594V595M772.5,593V594M773.5,592V593M776.5,588V589M777.5,587V588M778.5,586V587M781.5,582V583M782.5,580V582M785.5,576V577M786.5,574V576M789.5,570V571M790.5,569V570M791.5,568V569M794.5,564V565M795.5,563V564M796.5,562V563M800.5,559V560M801.5,559V560M802.5,558V559M806.5,555V556M807.5,554V555M808.5,553V554M812.5,550V551M813.5,550V551M814.5,549V550M818.5,547V548M819.5,546V547M820.5,546V547M824.5,545V546M825.5,545V546M826.5,544V545M830.5,544V545M831.5,544V545M832.5,544V545M836.5,544V545M837.5,545V546M838.5,545V546M842.5,547V548M843.5,547V548M844.5,547V548M848.5,549V550M849.5,549V550M850.5,550V551M854.5,552V553M855.5,552V553M856.5,552V553M860.5,553V554M861.5,553V554M862.5,553V554M866.5,553V554M867.5,553V554M868.5,553V554M872.5,553V554M873.5,553V554M874.5,552V553M878.5,552V553M879.5,552V553M880.5,552V553M884.5,550V551M885.5,550V551M886.5,549V550M890.5,548V549M891.5,548V549M892.5,548V549M896.5,547V548M897.5,547V548M898.5,546V547M902.5,544V545M903.5,543V544M904.5,542V543M908.5,539V540M909.5,538V539M910.5,537V538M914.5,534V535M915.5,533V534M916.5,532V533M920.5,529V530M921.5,528V529M922.5,527V528M926.5,525V526M927.5,524V525M928.5,524V525M932.5,522V523M933.5,522V523M934.5,521V522M938.5,521V522M939.5,521V522M940.5,521V522M944.5,522V523M945.5,522V523M946.5,523V524M950.5,525V526M951.5,525V526M952.5,526V527M956.5,529V530M957.5,530V531M958.5,530V531M962.5,533V534M963.5,534V535M964.5,535V536M968.5,539V540M969.5,540V541M970.5,540V541M973.5,544V545M974.5,545V546M975.5,546V547M978.5,550V552M979.5,552V553M982.5,556V558M983.5,558V559M986.5,562V564M987.5,564V565M990.5,568V569M991.5,569V570M992.5,570V571M994.5,574V575M995.5,575V576M996.5,576V577M998.5,580V581M999.5,581V582M1000.5,582V583M1002.5,586V587M1003.5,587V588M1004.5,588V589M1007.5,592V593M1008.5,593V594M1009.5,594V595M1013.5,598V599M1014.5,599V600M1015.5,600V601M1019.5,603V604M1020.5,604V605M1021.5,604V605M1025.5,607V608M1026.5,607V608M1027.5,608V609M1031.5,610V611M1032.5,611V612M1033.5,611V612M1037.5,613V614M1038.5,613V614M1039.5,613V614M1043.5,615V616M1044.5,615V616M1045.5,616V617M1049.5,617V618M1050.5,617V618M1051.5,617V618M1055.5,617V618M1056.5,617V618M1057.5,617V618M1061.5,615V616M1062.5,615V616M1063.5,614V615M1067.5,612V613M1068.5,612V613M1069.5,611V612M1073.5,609V610M1074.5,608V609M1075.5,607V608M1079.5,603V604M1080.5,602V603M1081.5,601V602M1085.5,598V599M1086.5,597V598M1087.5,596V597M1091.5,592V593M1092.5,592V593M1093.5,591V592M1097.5,589V590M1098.5,589V590M1099.5,588V589M1103.5,588V589M1104.5,588V589M1105.5,588V589M1109.5,589V590M1110.5,589V590M1111.5,589V590M1115.5,592V593M1116.5,593V594M1117.5,594V595M1121.5,597V598M1122.5,598V599M1123.5,599V600M1127.5,603V604M1128.5,604V605M1129.5,605V606M1132.5,609V610M1133.5,610V611M1134.5,611V612M1138.5,615V616M1139.5,616V617M1140.5,617V618M1144.5,621V622M1145.5,622V623M1146.5,622V623M1150.5,625V626M1151.5,625V626M1152.5,626V627M1156.5,627V628M1157.5,628V629M1158.5,628V629M1162.5,629V630M1163.5,629V630M1164.5,629V630M1168.5,628V629M1169.5,628V629M1170.5,628V629M1174.5,628V629M1175.5,628V629M1176.5,628V629M1180.5,627V628M1181.5,627V628M1182.5,627V628M1186.5,626V627M1187.5,626V627M1188.5,626V627M1192.5,625V626M1193.5,625V626M1194.5,624V625M1198.5,623V624M1199.5,623V624M1200.5,623V624M1204.5,622V623M1205.5,621V622M1206.5,621V622M1210.5,619V620M1211.5,618V619M1212.5,617V618M1216.5,615V616M1217.5,614V615M1218.5,614V615M1222.5,610V611M1223.5,609V610M1224.5,608V609M1228.5,605V606M1229.5,604V605M1230.5,603V604M1234.5,600V601M1235.5,599V600M1236.5,598V599M1240.5,594V595M1241.5,594V595M1242.5,593V594M1246.5,590V591M1247.5,589V590M1248.5,588V589M1252.5,585V586M1253.5,584V585M1254.5,583V584M1258.5,580V581M1259.5,579V580M1260.5,578V579M1264.5,575V576M1265.5,575V576M1266.5,574V575M1269.5,570V571M1270.5,569V570M1271.5,568V569M1274.5,564V565M1275.5,563V564M1276.5,562V563M1279.5,558V559M1280.5,557V558M1281.5,556V557M1284.5,552V553M1285.5,551V552M1286.5,550V551M1290.5,546V547M1291.5,545V546M1292.5,544V545M1296.5,540V541M1297.5,539V540M1298.5,538V539M1302.5,535V536M1303.5,534V535M1304.5,534V535M1308.5,532V533M1309.5,531V532M1310.5,531V532M1314.5,530V531M1315.5,530V531M1316.5,530V531M1320.5,529V530M1321.5,528V529M1322.5,528V529M1326.5,526V527M1327.5,526V527M1328.5,525V526M1332.5,523V524M1333.5,522V523M1334.5,522V523M1338.5,520V521M1339.5,519V520M1340.5,519V520M1344.5,517V518M1345.5,516V517M1346.5,516V517M1350.5,514V515M1351.5,514V515M1352.5,514V515M1356.5,514V515M1357.5,514V515M1358.5,514V515M1362.5,516V517M1363.5,516V517M1364.5,517V518M1368.5,521V522M1369.5,522V524M1372.5,527V528M1373.5,528V530M1376.5,533V535M1377.5,535V536M1379.5,539V540M1380.5,540V542M1382.5,545V546M1383.5,546V548M1385.5,551V552M1386.5,552V553M1387.5,553V554M1389.5,557V560M1391.5,563V564M1392.5,564V565M1393.5,565V566M1395.5,569V572M1397.5,575V576M1398.5,576V577M1399.5,577V578M1401.5,581V583M1402.5,583V584M1404.5,587V588M1405.5,588V590M1408.5,593V595M1409.5,595V596M1412.5,599V601M1413.5,601V602M1416.5,605V606M1417.5,606V607M1418.5,607V608" fill="none" stroke="#ff0000" stroke-width="1"/>
<line x1="0" y1="698.5" x2="1587" y2="698.5" stroke="#c0c0c0" stroke-width="1" stroke-dasharray="3,3" shape-rendering="crispEdges"/>
<line x1="0" y1="737.5" x2="1587" y2="737.5" stroke="#c0c0c0" stroke-width="1" stroke-dasharray="3,3" shape-rendering="crispEdges"/>
<line x1="0" y1="784.5" x2="1587" y2="784.5" stroke="#c0c0c0" stroke-width="1" stroke-dasharray="3,3" shape-rendering="crispEdges"/>
<path d="M-1.5,729V730M0.5,727V729M1.5,726V727M2.5,724V726M3.5,723V724M4.5,722V723M5.5,721V722M6.5,720V721M7.5,719V720M8.5,719V720M9.5,718V719M10.5,718V719M11.5,717V718M12.5,717V718M13.5,718V719M14.5,718V719M15.5,718V719M16.5,718V719M17.5,718V719M18.5,718V719M19.5,718V719M20.5,719V720M21.5,720V721M22.5,720V721M23.5,720V722M24.5,716V720M25.5,712V716M26.5,708V712M27.5,706V708M28.5,707V708M29.5,708V710M30.5,710V711M31.5,711V712M32.5,710V711M33.5,709V710M34.5,708V709M35.5,707V708M36.5,708V709M37.5,709V710M38.5,710V711M39.5,711V712M40.5,711V712M41.5,711V712M42.5,710V711M43.5,710V711M44.5,709V710M45.5,708V709M46.5,707V708M47.5,706V707M48.5,704V706M49.5,702V704M50.5,700V702M51.5,699V700M52.5,699V700M53.5,698V699M54.5,698V699M55.5,697V698M56.5,697V698M57.5,697V698M58.5,697V698M59.5,697V698M60.5,697V698M61.5,696V697M62.5,696V697M63.5,695V696M64.5,695V696M65.5,695V696M66.5,694V695M67.5,694V696M68.5,696V698M69.5,698V700M70.5,700V702M71.5,702V704M72.5,703V704M73.5,702V703M74.5,702V703M75.5,701V702M76.5,702V703M77.5,703V705M78.5,705V706M79.5,706V707M80.5,706V707M81.5,707V708M82.5,707V708M83.5,707V709M84.5,709V711M85.5,711V714M86.5,714V716M87.5,716V718M88.5,717V718M89.5,717V718M90.5,716V717M91.5,716V717M92.5,717V718M93.5,718V719M94.5,718V719M95.5,719V720M96.5,718V719M97.5,718V719M98.5,717V718M99.5,716V719M100.5,719V723M101.5,723V728M102.5,728V732M103.5,732V735M104.5,734V735M105.5,734V735M106.5,733V734M107.5,733V734M108.5,733V734M109.5,732V733M110.5,732V733M111.5,731V732M112.5,732V733M113.5,732V733M114.5,733V734M115.5,733V734M116.5,733V734M117.5,733V734M118.5,732V733M119.5,731V733M120.5,730V731M121.5,727V730M122.5,726V727M123.5,724V726M124.5,726V728M125.5,728V731M126.5,731V733M127.5,733V736M128.5,736V738M129.5,738V741M130.5,741V743M131.5,743V745M132.5,743V744M133.5,743V744M134.5,742V743M135.5,741V742M136.5,740V741M137.5,740V741M138.5,739V740M139.5,738V739M140.5,739V740M141.5,740V741M142.5,740V741M143.5,741V742M144.5,741V742M145.5,741V742M146.5,741V742M147.5,741V742M148.5,740V741M149.5,740V741M150.5,739V740M151.5,738V741M152.5,741V744M153.5,744V749M154.5,749V752M155.5,752V755M156.5,753V754M157.5,752V753M158.5,751V752M159.5,750V751M160.5,751V752M161.5,751V752M162.5,752V753M163.5,752V753M164.5,753V754M165.5,754V756M166.5,756V757M167.5,756V758M168.5,755V756M169.5,752V755M170.5,751V752M171.5,748V751M172.5,744V748M173.5,740V744M174.5,736V740M175.5,734V736M176.5,736V738M177.5,738V740M178.5,740V742M179.5,742V744M180.5,742V743M181.5,742V743M182.5,741V742M183.5,740V741M184.5,740V741M185.5,739V740M186.5,739V740M187.5,738V739M188.5,739V741M189.5,741V743M190.5,743V745M191.5,745V746M192.5,746V748M193.5,748V749M194.5,749V751M195.5,750V752M196.5,747V750M197.5,743V747M198.5,740V743M199.5,738V740M200.5,739V740M201.5,739V740M202.5,740V741M203.5,740V741M204.5,740V741M205.5,739V740M206.5,739V740M207.5,737V739M208.5,735V737M209.5,733V735M210.5,731V733M211.5,729V731M212.5,728V729M213.5,726V728M214.5,725V726M215.5,724V725M216.5,724V725M217.5,723V724M218.5,723V724M219.5,722V723M220.5,723V724M221.5,724V725M222.5,724V725M223.5,725V726M224.5,724V725M225.5,722V724M226.5,721V722M227.5,720V721M228.5,721V723M229.5,723V724M230.5,724V726M231.5,726V727M232.5,726V727M233.5,727V728M234.5,727V728M235.5,727V728M236.5,728V729M237.5,728V729M238.5,729V730M239.5,729V730M240.5,730V731M241.5,730V731M242.5,731V732M243.5,731V732M244.5,732V733M245.5,733V734M246.5,733V734M247.5,733V735M248.5,729V733M249.5,725V729M250.5,721V725M251.5,719V721M252.5,719V720M253.5,719V720M254.5,719V720M255.5,719V720M256.5,719V720M257.5,719V720M258.5,719V720M259.5,719V720M260.5,718V719M261.5,718V719M262.5,717V718M263.5,716V717M264.5,716V717M265.5,715V716M266.5,715V716M267.5,714V715M268.5,714V715M269.5,714V715M270.5,713V714M271.5,713V714M272.5,712V713M273.5,711V712M274.5,710V711M275.5,709V711M276.5,711V714M277.5,714V718M278.5,718V721M279.5,721V723M280.5,723V724M281.5,724V725M282.5,725V726M283.5,726V727M284.5,727V729M285.5,729V731M286.5,731V733M287.5,733V734M288.5,733V734M289.5,733V734M290.5,733V734M291.5,733V734M292.5,732V733M293.5,732V733M294.5,731V732M295.5,730V733M296.5,733V738M297.5,738V742M298.5,742V747M299.5,747V750M300.5,748V749M301.5,747V748M302.5,746V747M303.5,745V746M304.5,744V745M305.5,743V744M306.5,742V743M307.5,741V742M308.5,741V742M309.5,740V741M310.5,740V741M311.5,739V740M312.5,740V742M313.5,742V743M314.5,743V745M315.5,745V746M316.5,744V745M317.5,743V744M318.5,742V743M319.5,741V744M320.5,744V749M321.5,749V754M322.5,754V759M323.5,759V762M324.5,759V760M325.5,756V759M326.5,755V756M327.5,753V755M328.5,752V753M329.5,752V753M330.5,751V752M331.5,750V751M332.5,750V751M333.5,751V752M334.5,751V752M335.5,751V752M336.5,751V752M337.5,750V751M338.5,750V751M339.5,749V750M340.5,750V751M341.5,751V753M342.5,753V754M343.5,754V755M344.5,754V755M345.5,754V755M346.5,754V755M347.5,754V755M348.5,755V757M349.5,757V759M350.5,759V761M351.5,759V762M352.5,754V759M353.5,750V754M354.5,745V750M355.5,742V745M356.5,742V743M357.5,742V743M358.5,741V742M359.5,741V742M360.5,741V742M361.5,741V742M362.5,740V741M363.5,740V741M364.5,741V742M365.5,741V742M366.5,742V743M367.5,742V744M368.5,744V745M369.5,745V748M370.5,748V749M371.5,749V751M372.5,746V749M373.5,744V746M374.5,741V744M375.5,739V741M376.5,740V741M377.5,741V743M378.5,743V744M379.5,744V745M380.5,743V744M381.5,742V743M382.5,741V742M383.5,740V741M384.5,741V742M385.5,742V743M386.5,742V743M387.5,743V744M388.5,743V744M389.5,743V744M390.5,743V744M391.5,743V744M392.5,743V744M393.5,743V744M394.5,743V744M395.5,743V746M396.5,746V751M397.5,751V756M398.5,756V761M399.5,761V765M400.5,765V768M401.5,768V772M402.5,772V775M403.5,775V777M404.5,777V778M405.5,778V779M406.5,778V779M407.5,779V780M408.5,780V781M409.5,780V781M410.5,781V782M411.5,781V782M412.5,781V782M413.5,781V782M414.5,781V782M415.5,781V782M416.5,780V781M417.5,778V780M418.5,777V778M419.5,775V777M420.5,774V775M421.5,771V774M422.5,770V771M423.5,768V770M424.5,770V771M425.5,771V774M426.5,774V775M427.5,775V777M428.5,772V775M429.5,769V772M430.5,766V769M431.5,764V766M432.5,762V764M433.5,761V762M434.5,759V761M435.5,758V759M436.5,757V758M437.5,756V757M438.5,755V756M439.5,754V755M440.5,755V756M441.5,755V756M442.5,756V757M443.5,756V757M444.5,757V758M445.5,758V760M446.5,760V761M447.5,761V762M448.5,760V761M449.5,758V760M450.5,757V758M451.5,756V757M452.5,756V757M453.5,756V757M454.5,756V757M455.5,756V757M456.5,756V757M457.5,756V757M458.5,756V757M459.5,756V757M460.5,757V758M461.5,757V758M462.5,758V759M463.5,758V759M464.5,759V760M465.5,759V760M466.5,760V761M467.5,760V761M468.5,758V760M469.5,757V758M470.5,755V757M471.5,754V755M472.5,754V755M473.5,754V755M474.5,753V754M475.5,753V754M476.5,754V755M477.5,755V756M478.5,755V756M479.5,756V757M480.5,756V757M481.5,756V757M482.5,755V756M483.5,755V756M484.5,755V756M485.5,755V756M486.5,755V756M487.5,755V756M488.5,755V756M489.5,754V755M490.5,754V755M491.5,753V754M492.5,752V753M493.5,750V752M494.5,749V750M495.5,746V749M496.5,742V746M497.5,738V742M498.5,734V738M499.5,731V734M500.5,729V731M501.5,727V729M502.5,725V727M503.5,724V725M504.5,724V725M505.5,725V726M506.5,725V726M507.5,725V726M508.5,725V726M509.5,726V727M510.5,726V727M511.5,726V727M512.5,726V727M513.5,726V727M514.5,725V726M515.5,725V727M516.5,727V728M517.5,728V731M518.5,731V732M519.5,732V734M520.5,732V733M521.5,731V732M522.5,730V731M523.5,729V730M524.5,730V731M525.5,730V731M526.5,731V732M527.5,731V732M528.5,732V733M529.5,732V733M530.5,733V734M531.5,733V734M532.5,734V735M533.5,734V735M534.5,735V736M535.5,735V736M536.5,734V735M537.5,733V734M538.5,732V733M539.5,731V732M540.5,732V733M541.5,733V735M542.5,735V736M543.5,736V739M544.5,739V742M545.5,742V747M546.5,747V750M547.5,750V753M548.5,752V753M549.5,752V753M550.5,752V753M551.5,752V753M552.5,752V753M553.5,752V753M554.5,751V752M555.5,751V752M556.5,751V752M557.5,750V751M558.5,750V751M559.5,749V750M560.5,749V750M561.5,748V749M562.5,748V749M563.5,747V748M564.5,746V747M565.5,744V746M566.5,743V744M567.5,742V743M568.5,741V742M569.5,741V742M570.5,740V741M571.5,739V740M572.5,740V742M573.5,742V744M574.5,744V746M575.5,746V747M576.5,746V747M577.5,747V748M578.5,747V748M579.5,747V748M580.5,748V749M581.5,749V750M582.5,750V751M583.5,750V752M584.5,748V750M585.5,745V748M586.5,743V745M587.5,741V743M588.5,740V741M589.5,740V741M590.5,739V740M591.5,738V739M592.5,738V739M593.5,737V738M594.5,737V738M595.5,736V739M596.5,739V742M597.5,742V747M598.5,747V750M599.5,750V753M600.5,751V752M601.5,751V752M602.5,750V751M603.5,749V750M604.5,750V751M605.5,751V752M606.5,751V752M607.5,752V753M608.5,753V755M609.5,755V757M610.5,757V759M611.5,759V760M612.5,760V761M613.5,761V762M614.5,761V762M615.5,762V763M616.5,763V764M617.5,764V765M618.5,765V766M619.5,766V767M620.5,767V768M621.5,768V769M622.5,769V770M623.5,767V771M624.5,761V767M625.5,755V761M626.5,749V755M627.5,745V749M628.5,744V745M629.5,743V744M630.5,742V743M631.5,741V742M632.5,741V742M633.5,742V743M634.5,742V743M635.5,742V743M636.5,743V745M637.5,745V747M638.5,747V749M639.5,748V750M640.5,745V748M641.5,743V745M642.5,740V743M643.5,738V740M644.5,740V741M645.5,741V744M646.5,744V745M647.5,745V748M648.5,748V752M649.5,752V756M650.5,756V760M651.5,760V762M652.5,760V761M653.5,760V761M654.5,759V760M655.5,758V759M656.5,757V758M657.5,757V758M658.5,756V757M659.5,755V756M660.5,755V756M661.5,754V755M662.5,754V755M663.5,753V754M664.5,753V754M665.5,753V754M666.5,752V753M667.5,752V753M668.5,750V752M669.5,748V750M670.5,746V748M671.5,745V746M672.5,744V745M673.5,744V745M674.5,743V744M675.5,742V743M676.5,743V745M677.5,745V747M678.5,747V749M679.5,749V750M680.5,750V751M681.5,751V752M682.5,752V753M683.5,753V754M684.5,753V754M685.5,752V753M686.5,752V753M687.5,751V752M688.5,751V752M689.5,752V753M690.5,752V753M691.5,752V753M692.5,753V754M693.5,753V754M694.5,754V755M695.5,754V755M696.5,753V754M697.5,753V754M698.5,752V753M699.5,751V752M700.5,750V751M701.5,748V750M702.5,747V748M703.5,746V747M704.5,745V746M705.5,745V746M706.5,744V745M707.5,743V744M708.5,744V745M709.5,745V746M710.5,746V747M711.5,747V748M712.5,747V748M713.5,747V748M714.5,746V747M715.5,745V747M716.5,744V745M717.5,741V744M718.5,740V741M719.5,738V740M720.5,739V741M721.5,741V742M722.5,742V744M723.5,744V746M724.5,746V749M725.5,749V753M726.5,753V756M727.5,756V758M728.5,757V758M729.5,757V758M730.5,757V758M731.5,756V758M732.5,755V756M733.5,752V755M734.5,751V752M735.5,749V751M736.5,749V750M737.5,750V751M738.5,750V751M739.5,750V751M740.5,750V751M741.5,750V751M742.5,750V751M743.5,750V751M744.5,749V750M745.5,748V749M746.5,747V748M747.5,745V747M748.5,742V745M749.5,739V742M750.5,736V739M751.5,734V736M752.5,734V735M753.5,733V734M754.5,733V734M755.5,732V733M756.5,732V733M757.5,731V732M758.5,731V732M759.5,730V731M760.5,730V731M761.5,729V730M762.5,729V730M763.5,728V729M764.5,727V728M765.5,726V727M766.5,725V726M767.5,724V725M768.5,723V724M769.5,722V723M770.5,721V722M771.5,720V721M772.5,721V722M773.5,722V723M774.5,722V723M775.5,723V724M776.5,723V724M777.5,723V724M778.5,722V723M779.5,722V723M780.5,722V723M781.5,721V722M782.5,721V722M783.5,720V721M784.5,721V723M785.5,723V724M786.5,724V726M787.5,726V727M788.5,724V726M789.5,723V724M790.5,721V723M791.5,720V721M792.5,720V721M793.5,719V720M794.5,719V720M795.5,718V719M796.5,717V718M797.5,717V718M798.5,716V717M799.5,715V716M800.5,716V717M801.5,717V718M802.5,717V718M803.5,718V719M804.5,719V720M805.5,719V720M806.5,720V721M807.5,719V721M808.5,716V719M809.5,713V716M810.5,710V713M811.5,708V710M812.5,708V709M813.5,707V708M814.5,707V708M815.5,706V710M816.5,710V716M817.5,716V722M818.5,722V728M819.5,728V732M820.5,732V733M821.5,732V733M822.5,733V734M823.5,733V734M824.5,733V734M825.5,733V734M826.5,733V734M827.5,733V734M828.5,734V735M829.5,735V736M830.5,735V736M831.5,736V737M832.5,736V737M833.5,737V738M834.5,737V738M835.5,737V738M836.5,737V738M837.5,737V738M838.5,736V737M839.5,736V737M840.5,734V736M841.5,733V734M842.5,731V733M843.5,730V731M844.5,728V730M845.5,727V728M846.5,725V727M847.5,724V725M848.5,724V725M849.5,724V725M850.5,723V724M851.5,723V724M852.5,723V724M853.5,723V724M854.5,722V723M855.5,722V723M856.5,722V723M857.5,722V723M858.5,722V723M859.5,722V723M860.5,722V723M861.5,722V723M862.5,721V722M863.5,721V722M864.5,722V724M865.5,724V726M866.5,726V728M867.5,728V729M868.5,726V728M869.5,725V726M870.5,723V725M871.5,722V723M872.5,722V723M873.5,723V724M874.5,723V724M875.5,723V724M876.5,722V723M877.5,721V722M878.5,720V721M879.5,719V720M880.5,718V719M881.5,716V718M882.5,715V716M883.5,714V715M884.5,715V716M885.5,716V718M886.5,718V719M887.5,719V720M888.5,717V719M889.5,715V717M890.5,713V715M891.5,712V713M892.5,712V713M893.5,711V712M894.5,711V712M895.5,710V711M896.5,708V710M897.5,707V708M898.5,705V707M899.5,704V705M900.5,703V704M901.5,703V704M902.5,702V703M903.5,701V702M904.5,701V702M905.5,701V702M906.5,701V702M907.5,701V702M908.5,701V702M909.5,701V702M910.5,701V702M911.5,701V702M912.5,702V704M913.5,704V705M914.5,705V707M915.5,707V708M916.5,707V708M917.5,706V707M918.5,706V707M919.5,705V706M920.5,706V708M921.5,708V709M922.5,709V711M923.5,711V712M924.5,711V712M925.5,710V711M926.5,710V711M927.5,709V710M928.5,709V710M929.5,710V711M930.5,710V711M931.5,710V711M932.5,711V712M933.5,712V713M934.5,712V713M935.5,713V714M936.5,714V716M937.5,716V717M938.5,717V719M939.5,719V720M940.5,720V722M941.5,722V723M942.5,723V725M943.5,725V726M944.5,726V727M945.5,727V728M946.5,728V729M947.5,729V730M948.5,729V730M949.5,729V730M950.5,728V729M951.5,728V729M952.5,728V729M953.5,729V730M954.5,729V730M955.5,729V730M956.5,727V729M957.5,725V727M958.5,723V725M959.5,722V723M960.5,723V724M961.5,724V725M962.5,724V725M963.5,725V727M964.5,727V729M965.5,729V731M966.5,731V733M967.5,733V737M968.5,737V740M969.5,740V745M970.5,745V748M971.5,748V752M972.5,752V753M973.5,753V756M974.5,756V757M975.5,757V759M976.5,759V760M977.5,760V762M978.5,762V763M979.5,762V764M980.5,761V762M981.5,758V761M982.5,757V758M983.5,755V757M984.5,755V756M985.5,755V756M986.5,755V756M987.5,755V756M988.5,755V756M989.5,754V755M990.5,754V755M991.5,753V755M992.5,755V756M993.5,756V759M994.5,759V760M995.5,760V762M996.5,762V763M997.5,762V763M998.5,763V764M999.5,762V764M1000.5,760V762M1001.5,757V760M1002.5,755V757M1003.5,753V755M1004.5,754V755M1005.5,754V755M1006.5,755V756M1007.5,755V756M1008.5,756V757M1009.5,756V757M1010.5,757V758M1011.5,757V758M1012.5,757V758M1013.5,758V759M1014.5,758V759M1015.5,758V759M1016.5,758V759M1017.5,758V759M1018.5,758V759M1019.5,758V759M1020.5,759V760M1021.5,760V762M1022.5,762V763M1023.5,763V764M1024.5,764V765M1025.5,765V767M1026.5,767V768M1027.5,768V769M1028.5,768V769M1029.5,768V769M1030.5,768V769M1031.5,767V769M1032.5,764V767M1033.5,762V764M1034.5,759V762M1035.5,757V759M1036.5,757V758M1037.5,758V759M1038.5,758V759M1039.5,758V760M1040.5,760V762M1041.5,762V764M1042.5,764V766M1043.5,764V768M1044.5,758V764M1045.5,752V758M1046.5,746V752M1047.5,742V746M1048.5,742V743M1049.5,743V744M1050.5,743V744M1051.5,743V744M1052.5,743V744M1053.5,742V743M1054.5,742V743M1055.5,741V742M1056.5,741V742M1057.5,742V743M1058.5,742V743M1059.5,742V743M1060.5,743V744M1061.5,744V745M1062.5,744V745M1063.5,744V746M1064.5,743V744M1065.5,740V743M1066.5,739V740M1067.5,737V739M1068.5,736V737M1069.5,736V737M1070.5,735V736M1071.5,734V735M1072.5,734V735M1073.5,734V735M1074.5,733V734M1075.5,733V734M1076.5,734V735M1077.5,735V736M1078.5,735V736M1079.5,736V737M1080.5,736V737M1081.5,736V737M1082.5,736V737M1083.5,736V737M1084.5,736V737M1085.5,735V736M1086.5,735V736M1087.5,734V735M1088.5,735V736M1089.5,736V738M1090.5,738V739M1091.5,739V741M1092.5,741V743M1093.5,743V745M1094.5,745V747M1095.5,747V750M1096.5,750V751M1097.5,751V754M1098.5,754V755M1099.5,755V757M1100.5,756V757M1101.5,757V758M1102.5,757V758M1103.5,757V758M1104.5,757V758M1105.5,758V759M1106.5,758V759M1107.5,758V759M1108.5,758V759M1109.5,759V760M1110.5,759V760M1111.5,759V760M1112.5,759V760M1113.5,760V761M1114.5,760V761M1115.5,760V762M1116.5,762V763M1117.5,763V766M1118.5,766V767M1119.5,767V770M1120.5,770V771M1121.5,771V774M1122.5,774V775M1123.5,775V777M1124.5,776V777M1125.5,776V777M1126.5,776V777M1127.5,775V777M1128.5,773V775M1129.5,771V773M1130.5,769V771M1131.5,767V769M1132.5,766V767M1133.5,766V767M1134.5,765V766M1135.5,764V765M1136.5,764V765M1137.5,764V765M1138.5,764V765M1139.5,764V765M1140.5,764V765M1141.5,764V765M1142.5,763V764M1143.5,763V764M1144.5,762V763M1145.5,762V763M1146.5,761V762M1147.5,760V761M1148.5,761V762M1149.5,762V763M1150.5,763V764M1151.5,764V765M1152.5,764V765M1153.5,765V766M1154.5,765V766M1155.5,765V766M1156.5,765V766M1157.5,765V766M1158.5,765V766M1159.5,765V766M1160.5,766V767M1161.5,766V767M1162.5,767V768M1163.5,767V768M1164.5,768V769M1165.5,769V770M1166.5,770V771M1167.5,771V772M1168.5,771V772M1169.5,771V772M1170.5,770V771M1171.5,770V771M1172.5,768V770M1173.5,766V768M1174.5,764V766M1175.5,763V764M1176.5,763V764M1177.5,764V765M1178.5,764V765M1179.5,764V765M1180.5,765V766M1181.5,765V766M1182.5,766V767M1183.5,766V767M1184.5,767V768M1185.5,768V769M1186.5,768V769M1187.5,769V770M1188.5,768V769M1189.5,768V769M1190.5,767V768M1191.5,766V767M1192.5,767V768M1193.5,768V769M1194.5,768V769M1195.5,769V770M1196.5,767V769M1197.5,766V767M1198.5,764V766M1199.5,763V764M1200.5,761V763M1201.5,759V761M1202.5,757V759M1203.5,756V757M1204.5,754V756M1205.5,752V754M1206.5,750V752M1207.5,749V750M1208.5,747V749M1209.5,745V747M1210.5,743V745M1211.5,741V743M1212.5,738V741M1213.5,736V738M1214.5,733V736M1215.5,731V733M1216.5,732V733M1217.5,732V733M1218.5,733V734M1219.5,733V735M1220.5,735V737M1221.5,737V739M1222.5,739V741M1223.5,741V743M1224.5,741V742M1225.5,739V741M1226.5,738V739M1227.5,737V738M1228.5,737V738M1229.5,737V738M1230.5,736V737M1231.5,736V737M1232.5,736V737M1233.5,737V738M1234.5,737V738M1235.5,737V738M1236.5,737V738M1237.5,737V738M1238.5,736V737M1239.5,736V737M1240.5,734V736M1241.5,732V734M1242.5,730V732M1243.5,729V730M1244.5,727V729M1245.5,725V727M1246.5,723V725M1247.5,722V723M1248.5,722V723M1249.5,722V723M1250.5,722V723M1251.5,722V723M1252.5,721V722M1253.5,721V722M1254.5,720V721M1255.5,719V720M1256.5,719V720M1257.5,718V719M1258.5,718V719M1259.5,717V718M1260.5,716V717M1261.5,715V716M1262.5,714V715M1263.5,712V714M1264.5,708V712M1265.5,705V708M1266.5,701V705M1267.5,699V701M1268.5,699V700M1269.5,698V699M1270.5,698V699M1271.5,697V698M1272.5,698V699M1273.5,698V699M1274.5,699V700M1275.5,699V700M1276.5,700V701M1277.5,700V701M1278.5,701V702M1279.5,701V702M1280.5,702V703M1281.5,703V704M1282.5,703V704M1283.5,704V705M1284.5,705V706M1285.5,706V707M1286.5,707V708M1287.5,707V709M1288.5,705V707M1289.5,703V705M1290.5,701V703M1291.5,699V701M1292.5,701V703M1293.5,703V706M1294.5,706V708M1295.5,708V710M1296.5,709V710M1297.5,709V710M1298.5,709V710M1299.5,709V710M1300.5,709V710M1301.5,710V711M1302.5,710V711M1303.5,710V712M1304.5,712V715M1305.5,715V718M1306.5,718V721M1307.5,721V723M1308.5,721V722M1309.5,719V721M1310.5,718V719M1311.5,717V718M1312.5,716V717M1313.5,715V716M1314.5,714V715M1315.5,713V714M1316.5,712V713M1317.5,710V712M1318.5,709V710M1319.5,707V709M1320.5,705V707M1321.5,702V705M1322.5,700V702M1323.5,698V700M1324.5,698V699M1325.5,698V699M1326.5,697V698M1327.5,697V698M1328.5,697V698M1329.5,696V697M1330.5,696V697M1331.5,695V697M1332.5,697V699M1333.5,699V701M1334.5,701V703M1335.5,703V706M1336.5,706V710M1337.5,710V714M1338.5,714V718M1339.5,718V720M1340.5,719V720M1341.5,718V719M1342.5,718V719M1343.5,717V718M1344.5,718V719M1345.5,718V719M1346.5,719V720M1347.5,719V720M1348.5,720V721M1349.5,721V722M1350.5,721V722M1351.5,722V723M1352.5,723V724M1353.5,723V724M1354.5,724V725M1355.5,724V725M1356.5,724V725M1357.5,724V725M1358.5,723V724M1359.5,723V724M1360.5,724V726M1361.5,726V727M1362.5,727V729M1363.5,729V732M1364.5,732V738M1365.5,738V743M1366.5,743V749M1367.5,749V752M1368.5,752V753M1369.5,753V754M1370.5,753V754M1371.5,754V755M1372.5,754V755M1373.5,755V756M1374.5,755V756M1375.5,755V756M1376.5,755V756M1377.5,754V755M1378.5,754V755M1379.5,753V754M1380.5,753V754M1381.5,753V754M1382.5,752V753M1383.5,752V753M1384.5,752V753M1385.5,751V752M1386.5,751V752M1387.5,750V752M1388.5,752V755M1389.5,755V758M1390.5,758V761M1391.5,761V763M1392.5,763V764M1393.5,764V765M1394.5,765V766M1395.5,766V767M1396.5,764V766M1397.5,763V764M1398.5,761V763M1399.5,760V761M1400.5,761V762M1401.5,762V764M1402.5,764V765M1403.5,765V766M1404.5,766V767M1405.5,767V769M1406.5,769V770M1407.5,769V771M1408.5,765V769M1409.5,762V765M1410.5,758V762M1411.5,755V758M1412.5,753V755M1413.5,750V753M1414.5,748V750M1415.5,746V748M1416.5,746V747M1417.5,746V747M1418.5,745V746" fill="none" stroke="#1e90ff" stroke-width="1"/>
<text x="-1.5" y="818" font-size="9.8" letter-spacing="-0.35" font-family="Liberation Sans, Arial, sans-serif" fill="#000" text-anchor="start">18 Sep 2018</text>
<rect x="63" y="805" width="1" height="3" fill="#000"/>
<text x="62.5" y="818" font-size="9.8" letter-spacing="-0.35" font-family="Liberation Sans, Arial, sans-serif" fill="#000" text-anchor="start">21 Sep 00:00</text>
<rect x="127" y="805" width="1" height="3" fill="#000"/>
<text x="126.5" y="818" font-size="9.8" letter-spacing="-0.35" font-family="Liberation Sans, Arial, sans-serif" fill="#000" text-anchor="start">25 Sep 12:00</text>
<rect x="191" y="805" width="1" height="3" fill="#000"/>
<text x="190.5" y="818" font-size="9.8" letter-spacing="-0.35" font-family="Liberation Sans, Arial, sans-serif" fill="#000" text-anchor="start">28 Sep 04:00</text>
<rect x="255" y="805" width="1" height="3" fill="#000"/>
<text x="254.5" y="818" font-size="9.8" letter-spacing="-0.35" font-family="Liberation Sans, Arial, sans-serif" fill="#000" text-anchor="start">2 Oct 16:00</text>
<rect x="319" y="805" width="1" height="3" fill="#000"/>
<text x="318.5" y="818" font-size="9.8" letter-spacing="-0.35" font-family="Liberation Sans, Arial, sans-serif" fill="#000" text-anchor="start">5 Oct 08:00</text>
<rect x="383" y="805" width="1" height="3" fill="#000"/>
<text x="382.5" y="818" font-size="9.8" letter-spacing="-0.35" font-family="Liberation Sans, Arial, sans-serif" fill="#000" text-anchor="start">9 Oct 20:00</text>
<rect x="447" y="805" width="1" height="3" fill="#000"/>
<text x="446.5" y="818" font-size="9.8" letter-spacing="-0.35" font-family="Liberation Sans, Arial, sans-serif" fill="#000" text-anchor="start">12 Oct 12:00</text>
<rect x="511" y="805" width="1" height="3" fill="#000"/>
<text x="510.5" y="818" font-size="9.8" letter-spacing="-0.35" font-family="Liberation Sans, Arial, sans-serif" fill="#000" text-anchor="start">17 Oct 00:00</text>
<rect x="575" y="805" width="1" height="3" fill="#000"/>
<text x="574.5" y="818" font-size="9.8" letter-spacing="-0.35" font-family="Liberation Sans, Arial, sans-serif" fill="#000" text-anchor="start">19 Oct 16:00</text>
<rect x="639" y="805" width="1" height="3" fill="#000"/>
<text x="638.5" y="818" font-size="9.8" letter-spacing="-0.35" font-family="Liberation Sans, Arial, sans-serif" fill="#000" text-anchor="start">24 Oct 04:00</text>
<rect x="703" y="805" width="1" height="3" fill="#000"/>
<text x="702.5" y="818" font-size="9.8" letter-spacing="-0.35" font-family="Liberation Sans, Arial, sans-serif" fill="#000" text-anchor="start">26 Oct 20:00</text>
<rect x="767" y="805" width="1" height="3" fill="#000"/>
<text x="766.5" y="818" font-size="9.8" letter-spacing="-0.35" font-family="Liberation Sans, Arial, sans-serif" fill="#000" text-anchor="start">31 Oct 08:00</text>
<rect x="831" y="805" width="1" height="3" fill="#000"/>
<text x="830.5" y="818" font-size="9.8" letter-spacing="-0.35" font-family="Liberation Sans, Arial, sans-serif" fill="#000" text-anchor="start">4 Nov 23:00</text>
<rect x="895" y="805" width="1" height="3" fill="#000"/>
<text x="894.5" y="818" font-size="9.8" letter-spacing="-0.35" font-family="Liberation Sans, Arial, sans-serif" fill="#000" text-anchor="start">7 Nov 12:00</text>
<rect x="959" y="805" width="1" height="3" fill="#000"/>
<text x="958.5" y="818" font-size="9.8" letter-spacing="-0.35" font-family="Liberation Sans, Arial, sans-serif" fill="#000" text-anchor="start">12 Nov 00:00</text>
<rect x="1023" y="805" width="1" height="3" fill="#000"/>
<text x="1022.5" y="818" font-size="9.8" letter-spacing="-0.35" font-family="Liberation Sans, Arial, sans-serif" fill="#000" text-anchor="start">14 Nov 16:00</text>
<rect x="1087" y="805" width="1" height="3" fill="#000"/>
<text x="1086.5" y="818" font-size="9.8" letter-spacing="-0.35" font-family="Liberation Sans, Arial, sans-serif" fill="#000" text-anchor="start">19 Nov 04:00</text>
<rect x="1151" y="805" width="1" height="3" fill="#000"/>
<text x="1150.5" y="818" font-size="9.8" letter-spacing="-0.35" font-family="Liberation Sans, Arial, sans-serif" fill="#000" text-anchor="start">21 Nov 20:00</text>
<rect x="1215" y="805" width="1" height="3" fill="#000"/>
<text x="1214.5" y="818" font-size="9.8" letter-spacing="-0.35" font-family="Liberation Sans, Arial, sans-serif" fill="#000" text-anchor="start">26 Nov 12:00</text>
<rect x="1279" y="805" width="1" height="3" fill="#000"/>
<text x="1278.5" y="818" font-size="9.8" letter-spacing="-0.35" font-family="Liberation Sans, Arial, sans-serif" fill="#000" text-anchor="start">29 Nov 04:00</text>
<rect x="1343" y="805" width="1" height="3" fill="#000"/>
<text x="1342.5" y="818" font-size="9.8" letter-spacing="-0.35" font-family="Liberation Sans, Arial, sans-serif" fill="#000" text-anchor="start">3 Dec 16:00</text>
<rect x="1407" y="805" width="1" height="3" fill="#000"/>
<text x="1406.5" y="818" font-size="9.8" letter-spacing="-0.35" font-family="Liberation Sans, Arial, sans-serif" fill="#000" text-anchor="start">6 Dec 12:00</text>
<rect x="5" y="35" width="1" height="1" fill="#000"/><rect x="4" y="36" width="3" height="1" fill="#000"/><rect x="3" y="37" width="5" height="1" fill="#000"/><rect x="2" y="38" width="7" height="1" fill="#000"/>
<text x="14" y="40" font-size="9.8" letter-spacing="-0.27" font-family="Liberation Sans, Arial, sans-serif" fill="#000">DJ30-,H4&#160;&#160;24914.0 24935.0 24894.0 24914.0</text>
<text x="3" y="508" font-size="9.8" letter-spacing="-0.21" font-family="Liberation Sans, Arial, sans-serif" fill="#000">MACD(12,26,9) -173.80 -139.20</text>
<text x="3" y="683" font-size="9.8" letter-spacing="-0.26" font-family="Liberation Sans, Arial, sans-serif" fill="#000">RSI(14) 44.4001</text>
<text x="1110.8" y="343" fill="#00ff00" font-size="19.5" font-weight="600" letter-spacing="3.6" font-family="Liberation Sans, 'Noto Serif CJK SC', serif">多空转折点</text><text x="1225" y="343" fill="#00ff00" font-size="21.5" font-weight="bold" font-family="Liberation Sans, sans-serif">25198.8</text></svg>
<div id="tb"></div><div id="tb1"></div><div id="tb2"></div>
<svg width="1630" height="24" viewBox="0 0 1630 24" shape-rendering="crispEdges" style="position:absolute;left:0;top:0;overflow:hidden"><defs><pattern id="hatch" width="2" height="2" patternUnits="userSpaceOnUse"><rect width="2" height="2" fill="#ffffff"/><rect width="1" height="1" fill="#f0f0f0"/><rect x="1" y="1" width="1" height="1" fill="#f0f0f0"/></pattern><linearGradient id="gold" x1="0" y1="0" x2="1" y2="1"><stop offset="0" stop-color="#ffe860"/><stop offset="0.55" stop-color="#eab010"/><stop offset="1" stop-color="#f4d058"/></linearGradient><linearGradient id="gcandle" x1="0" y1="0" x2="1" y2="0"><stop offset="0" stop-color="#90ff90"/><stop offset="1" stop-color="#20c020"/></linearGradient><radialGradient id="lens" cx="0.4" cy="0.35" r="0.7"><stop offset="0" stop-color="#ffffff"/><stop offset="1" stop-color="#b8dcf8"/></radialGradient><radialGradient id="clock" cx="0.5" cy="0.4" r="0.6"><stop offset="0" stop-color="#ffffff"/><stop offset="0.7" stop-color="#e8f0f8"/><stop offset="1" stop-color="#b0c8e0"/></radialGradient><linearGradient id="ring" x1="0" y1="0" x2="0" y2="1"><stop offset="0" stop-color="#48a0f0"/><stop offset="1" stop-color="#0c48a8"/></linearGradient><linearGradient id="hat" x1="0" y1="0" x2="0" y2="1"><stop offset="0" stop-color="#8cc8f0"/><stop offset="1" stop-color="#3080c0"/></linearGradient><linearGradient id="bub" x1="0" y1="0" x2="0" y2="1"><stop offset="0" stop-color="#ffffff"/><stop offset="1" stop-color="#d8d8e0"/></linearGradient></defs><text x="-9.7" y="16" font-size="12" font-family="Liberation Sans, 'Noto Sans CJK SC', sans-serif" fill="#000">订单</text><g shape-rendering="geometricPrecision"><path d="M26,13.6 L34,18.3 L34.2,20.3 L26,15.4 Z" fill="#f0c860" stroke="#a8680c" stroke-width="0.6"/><path d="M34,18.3 L40.9,11.4 L42,13.2 L34.2,20.3 Z" fill="#e0cc98" stroke="#8a5408" stroke-width="0.6"/><path d="M31.6,5 L40.9,11.4 L34,18.3 L26,13.6 Q29.6,10.5 31.6,5 Z" fill="url(#gold)" stroke="#a8680c" stroke-width="0.9"/></g><g shape-rendering="geometricPrecision"><polygon points="53.4,10.8 69,10.4 63.6,20 60,20" fill="#fbe050" stroke="#d8a820" stroke-width="0.6"/><ellipse cx="61" cy="8.9" rx="8" ry="2.5" transform="rotate(-4 61 8.9)" fill="url(#hat)" stroke="#1a78b8" stroke-width="0.7"/><ellipse cx="60.6" cy="6.6" rx="3.7" ry="2.7" fill="#6cb8e8" stroke="#2a80c0" stroke-width="0.5"/><circle cx="65.4" cy="15.6" r="4" fill="#e42408" stroke="#b01408" stroke-width="0.6"/><rect x="64" y="14.2" width="3" height="3" fill="#fff"/></g><text x="73.7" y="16" font-size="12" letter-spacing="0.2" font-family="Liberation Sans, 'Noto Sans CJK SC', sans-serif" fill="#000">自动交易</text><rect x="129" y="0" width="1" height="24" fill="#a0a0a0"/><rect x="130" y="0" width="1" height="24" fill="#ffffff"/><rect x="133" y="3" width="3" height="1" fill="#b4b4b4"/><rect x="133" y="5" width="3" height="1" fill="#b4b4b4"/><rect x="133" y="7" width="3" height="1" fill="#b4b4b4"/><rect x="133" y="9" width="3" height="1" fill="#b4b4b4"/><rect x="133" y="11" width="3" height="1" fill="#b4b4b4"/><rect x="133" y="13" width="3" height="1" fill="#b4b4b4"/><rect x="133" y="15" width="3" height="1" fill="#b4b4b4"/><rect x="133" y="17" width="3" height="1" fill="#b4b4b4"/><rect x="133" y="19" width="3" height="1" fill="#b4b4b4"/><rect x="147" y="6" width="1" height="14" fill="#505050"/><rect x="146" y="7" width="3" height="1" fill="#505050"/><rect x="145" y="17" width="14" height="1" fill="#505050"/><rect x="157" y="16" width="1" height="3" fill="#505050"/><rect x="152" y="8" width="1" height="8" fill="#1a9a1a"/><rect x="150" y="15" width="2" height="1" fill="#1a9a1a"/><rect x="153" y="8" width="3" height="1" fill="#1a9a1a"/><rect x="153" y="9" width="1" height="7" fill="#1a9a1a"/><rect x="167" y="0" width="26" height="23" fill="url(#hatch)"/><rect x="167" y="0" width="26" height="1" fill="#a0a0a0"/><rect x="167" y="0" width="1" height="23" fill="#a0a0a0"/><rect x="192" y="0" width="1" height="23" fill="#ffffff"/><rect x="167" y="22" width="26" height="1" fill="#ffffff"/><rect x="175" y="6" width="1" height="14" fill="#505050"/><rect x="174" y="7" width="3" height="1" fill="#505050"/><rect x="173" y="17" width="14" height="1" fill="#505050"/><rect x="185" y="16" width="1" height="3" fill="#505050"/><rect x="181" y="4" width="1" height="12" fill="#008800"/><rect x="179" y="6" width="5" height="8" fill="#008800"/><rect x="180" y="7" width="3" height="6" fill="url(#gcandle)"/><rect x="203" y="6" width="1" height="14" fill="#505050"/><rect x="202" y="7" width="3" height="1" fill="#505050"/><rect x="201" y="17" width="14" height="1" fill="#505050"/><rect x="213" y="16" width="1" height="3" fill="#505050"/><path d="M202,14.5 C204,13 206,9 208.5,9 C210.5,9 211.5,12 214,13" fill="none" stroke="#209020" stroke-width="1.3" shape-rendering="geometricPrecision"/><rect x="224" y="2" width="1" height="20" fill="#a0a0a0"/><g shape-rendering="geometricPrecision"><line x1="243" y1="14.5" x2="248" y2="19" stroke="#c89828" stroke-width="2.6" stroke-linecap="round"/><line x1="243.5" y1="14" x2="248" y2="18" stroke="#f0d060" stroke-width="1"/><circle cx="239" cy="10" r="5.6" fill="url(#lens)" stroke="#3a86d0" stroke-width="1.3"/><line x1="236" y1="10" x2="242" y2="10" stroke="#3c8cb8" stroke-width="1.7"/><line x1="239" y1="7" x2="239" y2="13" stroke="#3c8cb8" stroke-width="1.7"/></g><g shape-rendering="geometricPrecision"><line x1="271" y1="14.5" x2="276" y2="19" stroke="#c89828" stroke-width="2.6" stroke-linecap="round"/><line x1="271.5" y1="14" x2="276" y2="18" stroke="#f0d060" stroke-width="1"/><circle cx="267" cy="10" r="5.6" fill="url(#lens)" stroke="#3a86d0" stroke-width="1.3"/><line x1="264" y1="10" x2="270" y2="10" stroke="#3c8cb8" stroke-width="1.7"/></g><rect x="289" y="4" width="8" height="8" fill="#3a9a1a"/><rect x="290" y="7" width="6" height="4" fill="#ffffff"/><rect x="291" y="8" width="4" height="1" fill="#3a9a1a"/><rect x="297" y="4" width="8" height="8" fill="#1a50c8"/><rect x="298" y="7" width="6" height="4" fill="#ffffff"/><rect x="299" y="8" width="4" height="1" fill="#1a50c8"/><rect x="289" y="12" width="8" height="8" fill="#1a50c8"/><rect x="290" y="15" width="6" height="4" fill="#ffffff"/><rect x="291" y="16" width="4" height="1" fill="#1a50c8"/><rect x="297" y="12" width="8" height="8" fill="#3a9a1a"/><rect x="298" y="15" width="6" height="4" fill="#ffffff"/><rect x="299" y="16" width="4" height="1" fill="#3a9a1a"/><rect x="314" y="2" width="1" height="20" fill="#a0a0a0"/><rect x="318" y="1" width="1" height="22" fill="#c8c8c8"/><rect x="319" y="0" width="25" height="23" fill="url(#hatch)"/><rect x="319" y="0" width="25" height="1" fill="#a0a0a0"/><rect x="319" y="0" width="1" height="23" fill="#a0a0a0"/><rect x="343" y="0" width="1" height="23" fill="#ffffff"/><rect x="319" y="22" width="25" height="1" fill="#ffffff"/><rect x="327" y="6" width="1" height="14" fill="#505050"/><rect x="326" y="7" width="3" height="1" fill="#505050"/><rect x="325" y="17" width="14" height="1" fill="#505050"/><rect x="337" y="16" width="1" height="3" fill="#505050"/><polygon points="332.5,8 332.5,15 337,11.5" fill="#c0f0c0" stroke="#1a9a1a" stroke-width="1" shape-rendering="geometricPrecision"/><rect x="347" y="0" width="25" height="23" fill="url(#hatch)"/><rect x="347" y="0" width="25" height="1" fill="#a0a0a0"/><rect x="347" y="0" width="1" height="23" fill="#a0a0a0"/><rect x="371" y="0" width="1" height="23" fill="#ffffff"/><rect x="347" y="22" width="25" height="1" fill="#ffffff"/><rect x="355" y="6" width="1" height="14" fill="#505050"/><rect x="354" y="7" width="3" height="1" fill="#505050"/><rect x="353" y="17" width="14" height="1" fill="#505050"/><rect x="365" y="16" width="1" height="3" fill="#505050"/><rect x="361" y="6" width="1" height="10" fill="#2060a0"/><polygon points="362.5,11 366,8.5 366,13.5" fill="#d04010" shape-rendering="geometricPrecision"/><rect x="365" y="11" width="3" height="1" fill="#d04010"/><rect x="376" y="2" width="1" height="20" fill="#a0a0a0"/><g shape-rendering="geometricPrecision"><path d="M386.5,4.5 h7 l3,3 v9.5 h-10 z" fill="#ffffff" stroke="#808080" stroke-width="0.9"/><path d="M393.5,4.5 v3 h3" fill="#e0e0e0" stroke="#808080" stroke-width="0.7"/><path d="M390,7.5 q-1.5,0 -1.5,1.5 v4 q0,1.5 1.5,1.5 M388.5,11 h2.5" stroke="#505050" stroke-width="0.8" fill="none"/><path d="M394,10 h4 v3.7 h3.7 v4 h-3.7 v3.7 h-4 v-3.7 h-3.7 v-4 h3.7 z" fill="#38d838" stroke="#109010" stroke-width="0.9"/></g><rect x="408" y="11" width="5" height="1" fill="#000"/><rect x="409" y="12" width="3" height="1" fill="#000"/><rect x="410" y="13" width="1" height="1" fill="#000"/><g shape-rendering="geometricPrecision"><circle cx="432" cy="11.8" r="7.5" fill="url(#ring)" stroke="#1850a0" stroke-width="0.5"/><circle cx="432" cy="11.8" r="5.5" fill="url(#clock)"/><path d="M432,8 V12 H435" stroke="#202020" stroke-width="1.1" fill="none"/><path d="M432,6.8v0.8M432,16v0.8M427,11.8h0.8M436.2,11.8h0.8" stroke="#8098b8" stroke-width="0.7"/></g><rect x="447" y="11" width="5" height="1" fill="#000"/><rect x="448" y="12" width="3" height="1" fill="#000"/><rect x="449" y="13" width="1" height="1" fill="#000"/><rect x="463" y="5" width="16" height="14" fill="#3068c0"/><rect x="464" y="8" width="14" height="10" fill="#ffffff"/><rect x="464" y="6" width="14" height="1" fill="#a8c8f8"/><rect x="464" y="7" width="14" height="1" fill="#78a4e8"/><path d="M465,11 l3,-1 l3,0.5 l3,-1.5 l3,0" stroke="#a02010" stroke-width="1" fill="none" shape-rendering="geometricPrecision"/><path d="M465,16 l3,-1 l2,1 l3,-2 l2,1.5 l2,0" stroke="#209020" stroke-width="1" fill="none" shape-rendering="geometricPrecision"/><rect x="464" y="13" width="14" height="1" fill="#6090d0"/><rect x="486" y="11" width="5" height="1" fill="#000"/><rect x="487" y="12" width="3" height="1" fill="#000"/><rect x="488" y="13" width="1" height="1" fill="#000"/><rect x="497" y="2" width="1" height="20" fill="#a0a0a0"/><rect x="498" y="2" width="1" height="20" fill="#ffffff"/><rect x="501" y="3" width="3" height="1" fill="#b4b4b4"/><rect x="501" y="5" width="3" height="1" fill="#b4b4b4"/><rect x="501" y="7" width="3" height="1" fill="#b4b4b4"/><rect x="501" y="9" width="3" height="1" fill="#b4b4b4"/><rect x="501" y="11" width="3" height="1" fill="#b4b4b4"/><rect x="501" y="13" width="3" height="1" fill="#b4b4b4"/><rect x="501" y="15" width="3" height="1" fill="#b4b4b4"/><rect x="501" y="17" width="3" height="1" fill="#b4b4b4"/><rect x="501" y="19" width="3" height="1" fill="#b4b4b4"/><rect x="507" y="0" width="26" height="23" fill="url(#hatch)"/><rect x="507" y="0" width="26" height="1" fill="#a0a0a0"/><rect x="507" y="0" width="1" height="23" fill="#a0a0a0"/><rect x="532" y="0" width="1" height="23" fill="#ffffff"/><rect x="507" y="22" width="26" height="1" fill="#ffffff"/><polygon points="515,5 515,16.5 517.8,14 520,19 522,18 519.8,13.2 523.5,13" fill="#404040" shape-rendering="geometricPrecision"/><rect x="547" y="5" width="1" height="15" fill="#505050"/><rect x="540" y="12" width="15" height="1" fill="#505050"/><rect x="547" y="12" width="1" height="1" fill="#f0f0f0"/><rect x="564" y="2" width="1" height="20" fill="#a0a0a0"/><rect x="581" y="6" width="1" height="14" fill="#505050"/><rect x="604" y="12" width="13" height="1" fill="#505050"/><line x1="632" y1="19" x2="644.5" y2="7" stroke="#505050" stroke-width="1.1" shape-rendering="geometricPrecision"/><g shape-rendering="geometricPrecision" stroke="#404040" fill="none"><line x1="657.5" y1="13.6" x2="665.8" y2="6.1" stroke-width="0.8"/><line x1="662.9" y1="19" x2="672.1" y2="10.3" stroke-width="0.8"/><path d="M660.5,18.4 V12 M663.5,15.6 V10.6 M666.6,14 V8.4 M669.5,11 V4" stroke-width="1.2"/><path d="M659.3,13.2 l1.2,-1.4 l1.2,1.4 M659.3,17 l1.2,1.4 l1.2,-1.4 M668.3,5.4 l1.2,-1.4 l1.2,1.4 M668.3,9.6 l1.2,1.4 l1.2,-1.4" stroke-width="0.7"/></g><text x="669" y="21" font-size="7" font-weight="bold" font-family="Liberation Sans, sans-serif" fill="#303030">E</text><rect x="687" y="5" width="1" height="1" fill="#505050"/><rect x="689" y="5" width="1" height="1" fill="#505050"/><rect x="691" y="5" width="1" height="1" fill="#505050"/><rect x="693" y="5" width="1" height="1" fill="#505050"/><rect x="695" y="5" width="1" height="1" fill="#505050"/><rect x="697" y="5" width="1" height="1" fill="#505050"/><rect x="699" y="5" width="1" height="1" fill="#505050"/><rect x="687" y="8" width="1" height="1" fill="#505050"/><rect x="689" y="8" width="1" height="1" fill="#505050"/><rect x="691" y="8" width="1" height="1" fill="#505050"/><rect x="693" y="8" width="1" height="1" fill="#505050"/><rect x="695" y="8" width="1" height="1" fill="#505050"/><rect x="697" y="8" width="1" height="1" fill="#505050"/><rect x="699" y="8" width="1" height="1" fill="#505050"/><rect x="687" y="12" width="1" height="1" fill="#505050"/><rect x="689" y="12" width="1" height="1" fill="#505050"/><rect x="691" y="12" width="1" height="1" fill="#505050"/><rect x="693" y="12" width="1" height="1" fill="#505050"/><rect x="695" y="12" width="1" height="1" fill="#505050"/><rect x="697" y="12" width="1" height="1" fill="#505050"/><rect x="699" y="12" width="1" height="1" fill="#505050"/><rect x="687" y="16" width="1" height="1" fill="#505050"/><rect x="689" y="16" width="1" height="1" fill="#505050"/><rect x="691" y="16" width="1" height="1" fill="#505050"/><rect x="693" y="16" width="1" height="1" fill="#505050"/><rect x="695" y="16" width="1" height="1" fill="#505050"/><text x="697" y="21" font-size="7" font-weight="bold" font-family="Liberation Sans, sans-serif" fill="#303030">F</text><text x="717.6" y="17" font-size="12.2" font-family="Liberation Sans, sans-serif" fill="#585858" stroke="#585858" stroke-width="0.3">A</text><rect x="743" y="6" width="1" height="1" fill="#505050"/><rect x="743" y="18" width="1" height="1" fill="#505050"/><rect x="745" y="6" width="1" height="1" fill="#505050"/><rect x="745" y="18" width="1" height="1" fill="#505050"/><rect x="747" y="6" width="1" height="1" fill="#505050"/><rect x="747" y="18" width="1" height="1" fill="#505050"/><rect x="749" y="6" width="1" height="1" fill="#505050"/><rect x="749" y="18" width="1" height="1" fill="#505050"/><rect x="751" y="6" width="1" height="1" fill="#505050"/><rect x="751" y="18" width="1" height="1" fill="#505050"/><rect x="753" y="6" width="1" height="1" fill="#505050"/><rect x="753" y="18" width="1" height="1" fill="#505050"/><rect x="755" y="6" width="1" height="1" fill="#505050"/><rect x="755" y="18" width="1" height="1" fill="#505050"/><rect x="743" y="6" width="1" height="1" fill="#505050"/><rect x="756" y="6" width="1" height="1" fill="#505050"/><rect x="743" y="8" width="1" height="1" fill="#505050"/><rect x="756" y="8" width="1" height="1" fill="#505050"/><rect x="743" y="10" width="1" height="1" fill="#505050"/><rect x="756" y="10" width="1" height="1" fill="#505050"/><rect x="743" y="12" width="1" height="1" fill="#505050"/><rect x="756" y="12" width="1" height="1" fill="#505050"/><rect x="743" y="14" width="1" height="1" fill="#505050"/><rect x="756" y="14" width="1" height="1" fill="#505050"/><rect x="743" y="16" width="1" height="1" fill="#505050"/><rect x="756" y="16" width="1" height="1" fill="#505050"/><rect x="743" y="18" width="1" height="1" fill="#505050"/><rect x="756" y="18" width="1" height="1" fill="#505050"/><rect x="746" y="9" width="8" height="2" fill="#585858"/><rect x="749" y="9" width="2" height="8" fill="#585858"/><g shape-rendering="geometricPrecision" fill="#404040"><polygon points="771.5,9 775,5.5 778.5,9 775,10.5"/><polygon points="777.5,15 781,13.5 784.5,15 781,19"/><path d="M773,12.5 l2,2.2 l4.5,-5" stroke="#404040" stroke-width="1.2" fill="none"/></g><rect x="793" y="11" width="5" height="1" fill="#000"/><rect x="794" y="12" width="3" height="1" fill="#000"/><rect x="795" y="13" width="1" height="1" fill="#000"/><rect x="803" y="0" width="1" height="24" fill="#a0a0a0"/><rect x="804" y="0" width="1" height="24" fill="#ffffff"/><rect x="807" y="3" width="3" height="1" fill="#b4b4b4"/><rect x="807" y="5" width="3" height="1" fill="#b4b4b4"/><rect x="807" y="7" width="3" height="1" fill="#b4b4b4"/><rect x="807" y="9" width="3" height="1" fill="#b4b4b4"/><rect x="807" y="11" width="3" height="1" fill="#b4b4b4"/><rect x="807" y="13" width="3" height="1" fill="#b4b4b4"/><rect x="807" y="15" width="3" height="1" fill="#b4b4b4"/><rect x="807" y="17" width="3" height="1" fill="#b4b4b4"/><rect x="807" y="19" width="3" height="1" fill="#b4b4b4"/><rect x="953" y="0" width="26" height="23" fill="url(#hatch)"/><rect x="953" y="0" width="26" height="1" fill="#a0a0a0"/><rect x="953" y="0" width="1" height="23" fill="#a0a0a0"/><rect x="978" y="0" width="1" height="23" fill="#ffffff"/><rect x="953" y="22" width="26" height="1" fill="#ffffff"/><text x="825" y="16" text-anchor="middle" textLength="13.6" lengthAdjust="spacingAndGlyphs" font-size="10.4" font-family="Liberation Sans, sans-serif" fill="#404040">M1</text><text x="853" y="16" text-anchor="middle" textLength="13.5" lengthAdjust="spacingAndGlyphs" font-size="10.4" font-family="Liberation Sans, sans-serif" fill="#404040">M5</text><text x="881.3" y="16" text-anchor="middle" textLength="18.6" lengthAdjust="spacingAndGlyphs" font-size="10.4" font-family="Liberation Sans, sans-serif" fill="#404040">M15</text><text x="909.3" y="16" text-anchor="middle" textLength="18.6" lengthAdjust="spacingAndGlyphs" font-size="10.4" font-family="Liberation Sans, sans-serif" fill="#404040">M30</text><text x="937.5" y="16" text-anchor="middle" textLength="13.0" lengthAdjust="spacingAndGlyphs" font-size="10.4" font-family="Liberation Sans, sans-serif" fill="#404040">H1</text><text x="965" y="16" text-anchor="middle" textLength="13.0" lengthAdjust="spacingAndGlyphs" font-size="10.4" font-family="Liberation Sans, sans-serif" fill="#404040">H4</text><text x="993.5" y="16" text-anchor="middle" textLength="12.6" lengthAdjust="spacingAndGlyphs" font-size="10.4" font-family="Liberation Sans, sans-serif" fill="#404040">D1</text><text x="1022.1" y="16" text-anchor="middle" textLength="15.5" lengthAdjust="spacingAndGlyphs" font-size="10.4" font-family="Liberation Sans, sans-serif" fill="#404040">W1</text><text x="1049.1" y="16" text-anchor="middle" textLength="15.4" lengthAdjust="spacingAndGlyphs" font-size="10.4" font-family="Liberation Sans, sans-serif" fill="#404040">MN</text><rect x="1064" y="0" width="1" height="24" fill="#a0a0a0"/><g shape-rendering="geometricPrecision"><line x1="1578.5" y1="17" x2="1583.5" y2="12.5" stroke="#2060d0" stroke-width="2.4" stroke-linecap="round"/><circle cx="1586.6" cy="9.3" r="4" fill="#f4f4ff" stroke="#2060e0" stroke-width="1.3"/></g><g shape-rendering="geometricPrecision"><ellipse cx="1619.3" cy="9" rx="6.3" ry="4.8" fill="url(#bub)" stroke="#909090" stroke-width="0.8"/><polygon points="1620.5,13.3 1623,13 1622.5,16" fill="#808080"/><ellipse cx="1610.2" cy="13.2" rx="5" ry="3.9" fill="url(#bub)" stroke="#909090" stroke-width="0.8"/><polygon points="1607,16.5 1609.5,16.8 1607.3,19" fill="#808080"/></g></svg>
<div id="oct" style="position:absolute;left:2px;top:48px;width:219px;height:64px;font-family:'Liberation Sans',sans-serif;">
<div style="position:absolute;left:0;top:0;width:219px;height:24px;background:#fff"></div>
<div style="position:absolute;left:0;top:0;width:109px;height:64px;background:linear-gradient(#fa4d4d 0%,#e03030 38%,#c81818 70%,#b00000 100%);clip-path:polygon(0 0,52px 0,52px 24px,109px 24px,109px 64px,0 64px);"></div>
<div style="position:absolute;left:0;top:0;width:1px;height:64px;background:#c40c0c"></div>
<div style="position:absolute;left:0;top:0;width:52px;height:1px;background:#d01818"></div>
<div style="position:absolute;left:111px;top:0;width:108px;height:64px;background:linear-gradient(#fa4d4d 0%,#e03030 38%,#c81818 70%,#b00000 100%);clip-path:polygon(56px 0,108px 0,108px 64px,0 64px,0 24px,56px 24px);"></div>
<div style="position:absolute;left:167px;top:0;width:52px;height:1px;background:#d01818"></div>
<div style="position:absolute;left:4px;top:23px;width:44px;height:1px;background:#900808"></div>
<div style="position:absolute;left:4px;top:24px;width:44px;height:1px;background:#f05050"></div>
<div style="position:absolute;left:171px;top:23px;width:44px;height:1px;background:#900808"></div>
<div style="position:absolute;left:171px;top:24px;width:44px;height:1px;background:#f05050"></div>
<div style="position:absolute;left:0;top:5px;width:51px;text-align:center;color:#ffe8e8;font-size:11.5px;letter-spacing:-0.6px;line-height:14px">SELL</div>
<div style="position:absolute;left:167px;top:5px;width:51px;text-align:center;color:#ffe8e8;font-size:11.5px;letter-spacing:-0.1px;line-height:14px">BUY</div>
<div style="position:absolute;left:54px;top:0;width:109px;height:20px;border:1px solid #a8acb4;background:#fff"></div>
<div style="position:absolute;left:55px;top:1px;width:20px;height:20px;background:linear-gradient(#f2f2f2,#e0e0e0 50%,#c8c8c8);border-right:1px solid #a8acb4"></div>
<div style="position:absolute;left:143px;top:1px;width:20px;height:20px;background:linear-gradient(#f2f2f2,#e0e0e0 50%,#c8c8c8);border-left:1px solid #a8acb4;margin-left:-1px"></div>
<div style="position:absolute;left:62px;top:9px;width:0;height:0;border-left:3px solid transparent;border-right:3px solid transparent;border-top:3.8px solid #4868c4"></div>
<div style="position:absolute;left:150.2px;top:8.2px;width:0;height:0;border-left:3px solid transparent;border-right:3px solid transparent;border-bottom:3.8px solid #4868c4"></div>
<div style="position:absolute;left:79.7px;top:3px;width:60px;text-align:right;color:#111;font-size:12.5px;letter-spacing:-0.3px;line-height:16px">1.00</div>
<div style="position:absolute;left:16px;top:42px;color:#fff;font-size:12px;font-weight:bold;line-height:18px;letter-spacing:0.2px">24912</div>
<div style="position:absolute;left:126px;top:42px;color:#fff;font-size:12px;font-weight:bold;line-height:18px;letter-spacing:0.2px">24922</div>
<svg width="219" height="64" viewBox="0 0 219 64" style="position:absolute;left:0;top:0" font-family="Liberation Sans, sans-serif">
<defs><linearGradient id="pg" gradientUnits="userSpaceOnUse" x1="0" y1="0" x2="0" y2="64"><stop offset="0" stop-color="#fa4d4d"/><stop offset="0.38" stop-color="#e03030"/><stop offset="0.7" stop-color="#c81818"/><stop offset="1" stop-color="#b00000"/></linearGradient></defs>
<text x="53" y="54.8" font-size="34" fill="#fff">.</text>
<text transform="translate(62.3,55) scale(0.83,1)" font-size="34.3" fill="#fff" stroke="url(#pg)" stroke-width="0.9">5</text>
<text x="164" y="54.8" font-size="34" fill="#fff">.</text>
<text transform="translate(173.8,55) scale(0.83,1)" font-size="34.3" fill="#fff" stroke="url(#pg)" stroke-width="0.9">5</text>
</svg>
</div>
</body></html>
